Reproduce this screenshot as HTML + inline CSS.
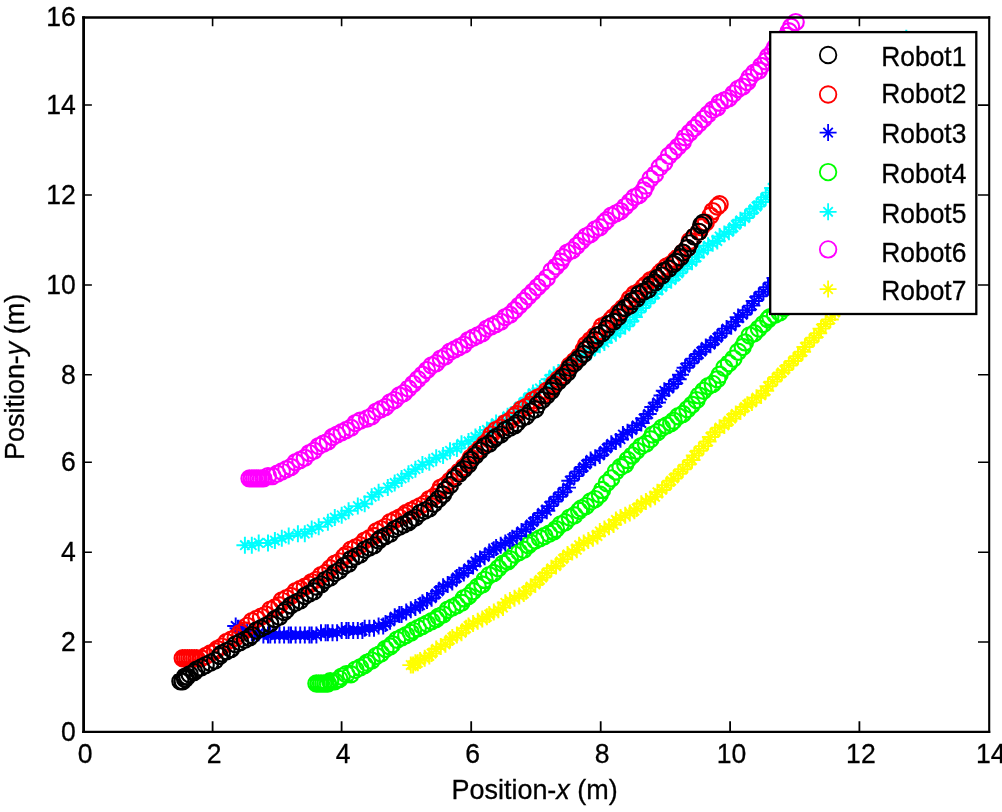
<!DOCTYPE html>
<html><head><meta charset="utf-8"><title>Robot trajectories</title>
<style>
html,body{margin:0;padding:0;background:#fff}
body{width:1002px;height:812px;position:relative;overflow:hidden;font-family:"Liberation Sans",sans-serif;color:#000}
</style></head><body>
<svg width="1002" height="812" viewBox="0 0 1002 812" style="position:absolute;left:0;top:0;will-change:transform;font-family:'Liberation Sans',sans-serif"><rect x="0" y="0" width="1002" height="812" fill="#fff"/><g><path d="M402.3,665.1h17M410.8,656.6v17M406.1,660.4l9.4,9.4M406.1,669.8l9.4,-9.4M404.6,665.1h17M413.1,656.6v17M408.4,660.4l9.4,9.4M408.4,669.8l9.4,-9.4M404.6,665.1h17M413.1,656.6v17M408.4,660.4l9.4,9.4M408.4,669.8l9.4,-9.4M406.9,662.8h17M415.4,654.3v17M410.7,658.1l9.4,9.4M410.7,667.5l9.4,-9.4M409.3,662.8h17M417.8,654.3v17M413.1,658.1l9.4,9.4M413.1,667.5l9.4,-9.4M411.6,660.5h17M420.1,652v17M415.4,655.8l9.4,9.4M415.4,665.2l9.4,-9.4M416.2,658.2h17M424.7,649.7v17M420,653.5l9.4,9.4M420,662.9l9.4,-9.4M420.8,655.9h17M429.3,647.4v17M424.6,651.2l9.4,9.4M424.6,660.6l9.4,-9.4M423.1,653.5h17M431.6,645v17M426.9,648.8l9.4,9.4M426.9,658.2l9.4,-9.4M427.7,648.9h17M436.2,640.4v17M431.5,644.2l9.4,9.4M431.5,653.6l9.4,-9.4M432.3,646.6h17M440.8,638.1v17M436.1,641.9l9.4,9.4M436.1,651.3l9.4,-9.4M436.9,644.3h17M445.4,635.8v17M440.7,639.6l9.4,9.4M440.7,649l9.4,-9.4M441.5,639.7h17M450,631.2v17M445.3,635l9.4,9.4M445.3,644.4l9.4,-9.4M443.8,637.4h17M452.3,628.9v17M447.6,632.7l9.4,9.4M447.6,642.1l9.4,-9.4M448.4,635.1h17M456.9,626.6v17M452.2,630.4l9.4,9.4M452.2,639.8l9.4,-9.4M453,632.8h17M461.5,624.3v17M456.8,628.1l9.4,9.4M456.8,637.5l9.4,-9.4M457.6,628.2h17M466.1,619.7v17M461.4,623.5l9.4,9.4M461.4,632.9l9.4,-9.4M460,625.9h17M468.5,617.4v17M463.8,621.2l9.4,9.4M463.8,630.6l9.4,-9.4M464.6,623.6h17M473.1,615.1v17M468.4,618.9l9.4,9.4M468.4,628.3l9.4,-9.4M469.2,621.3h17M477.7,612.8v17M473,616.6l9.4,9.4M473,626l9.4,-9.4M473.8,619h17M482.3,610.5v17M477.6,614.3l9.4,9.4M477.6,623.7l9.4,-9.4M478.4,616.7h17M486.9,608.2v17M482.2,612l9.4,9.4M482.2,621.4l9.4,-9.4M480.7,614.4h17M489.2,605.9v17M484.5,609.7l9.4,9.4M484.5,619.1l9.4,-9.4M485.3,612.1h17M493.8,603.6v17M489.1,607.4l9.4,9.4M489.1,616.8l9.4,-9.4M489.9,609.8h17M498.4,601.3v17M493.7,605.1l9.4,9.4M493.7,614.5l9.4,-9.4M494.5,607.5h17M503,599v17M498.3,602.8l9.4,9.4M498.3,612.2l9.4,-9.4M496.8,602.8h17M505.3,594.3v17M500.6,598.1l9.4,9.4M500.6,607.5l9.4,-9.4M501.4,600.5h17M509.9,592v17M505.2,595.8l9.4,9.4M505.2,605.2l9.4,-9.4M506,598.2h17M514.5,589.7v17M509.8,593.5l9.4,9.4M509.8,602.9l9.4,-9.4M510.7,595.9h17M519.2,587.4v17M514.5,591.2l9.4,9.4M514.5,600.6l9.4,-9.4M515.3,593.6h17M523.8,585.1v17M519.1,588.9l9.4,9.4M519.1,598.3l9.4,-9.4M517.6,591.3h17M526.1,582.8v17M521.4,586.6l9.4,9.4M521.4,596l9.4,-9.4M522.2,586.7h17M530.7,578.2v17M526,582l9.4,9.4M526,591.4l9.4,-9.4M526.8,584.4h17M535.3,575.9v17M530.6,579.7l9.4,9.4M530.6,589.1l9.4,-9.4M531.4,579.8h17M539.9,571.3v17M535.2,575.1l9.4,9.4M535.2,584.5l9.4,-9.4M533.7,577.5h17M542.2,569v17M537.5,572.8l9.4,9.4M537.5,582.2l9.4,-9.4M538.3,572.9h17M546.8,564.4v17M542.1,568.2l9.4,9.4M542.1,577.6l9.4,-9.4M542.9,568.3h17M551.4,559.8v17M546.7,563.6l9.4,9.4M546.7,573l9.4,-9.4M547.5,566h17M556,557.5v17M551.3,561.3l9.4,9.4M551.3,570.7l9.4,-9.4M552.1,561.4h17M560.6,552.9v17M555.9,556.7l9.4,9.4M555.9,566.1l9.4,-9.4M554.4,559.1h17M562.9,550.6v17M558.2,554.4l9.4,9.4M558.2,563.8l9.4,-9.4M559,554.5h17M567.5,546v17M562.8,549.8l9.4,9.4M562.8,559.2l9.4,-9.4M563.7,552.1h17M572.2,543.6v17M567.5,547.4l9.4,9.4M567.5,556.8l9.4,-9.4M568.3,549.8h17M576.8,541.3v17M572.1,545.1l9.4,9.4M572.1,554.5l9.4,-9.4M570.6,545.2h17M579.1,536.7v17M574.4,540.5l9.4,9.4M574.4,549.9l9.4,-9.4M575.2,542.9h17M583.7,534.4v17M579,538.2l9.4,9.4M579,547.6l9.4,-9.4M579.8,540.6h17M588.3,532.1v17M583.6,535.9l9.4,9.4M583.6,545.3l9.4,-9.4M584.4,538.3h17M592.9,529.8v17M588.2,533.6l9.4,9.4M588.2,543l9.4,-9.4M589,536h17M597.5,527.5v17M592.8,531.3l9.4,9.4M592.8,540.7l9.4,-9.4M591.3,531.4h17M599.8,522.9v17M595.1,526.7l9.4,9.4M595.1,536.1l9.4,-9.4M595.9,529.1h17M604.4,520.6v17M599.7,524.4l9.4,9.4M599.7,533.8l9.4,-9.4M600.5,526.8h17M609,518.3v17M604.3,522.1l9.4,9.4M604.3,531.5l9.4,-9.4M605.1,524.5h17M613.6,516v17M608.9,519.8l9.4,9.4M608.9,529.2l9.4,-9.4M607.4,519.9h17M615.9,511.4v17M611.2,515.2l9.4,9.4M611.2,524.6l9.4,-9.4M612,517.6h17M620.5,509.1v17M615.8,512.9l9.4,9.4M615.8,522.3l9.4,-9.4M616.7,515.3h17M625.2,506.8v17M620.5,510.6l9.4,9.4M620.5,520l9.4,-9.4M621.3,513h17M629.8,504.5v17M625.1,508.3l9.4,9.4M625.1,517.7l9.4,-9.4M625.9,510.7h17M634.4,502.2v17M629.7,506l9.4,9.4M629.7,515.4l9.4,-9.4M628.2,508.4h17M636.7,499.9v17M632,503.7l9.4,9.4M632,513.1l9.4,-9.4M632.8,503.8h17M641.3,495.3v17M636.6,499.1l9.4,9.4M636.6,508.5l9.4,-9.4M637.4,501.4h17M645.9,492.9v17M641.2,496.8l9.4,9.4M641.2,506.1l9.4,-9.4M642,499.1h17M650.5,490.6v17M645.8,494.4l9.4,9.4M645.8,503.8l9.4,-9.4M646.6,496.8h17M655.1,488.3v17M650.4,492.1l9.4,9.4M650.4,501.5l9.4,-9.4M648.9,492.2h17M657.4,483.7v17M652.7,487.5l9.4,9.4M652.7,496.9l9.4,-9.4M653.5,489.9h17M662,481.4v17M657.3,485.2l9.4,9.4M657.3,494.6l9.4,-9.4M658.1,485.3h17M666.6,476.8v17M661.9,480.6l9.4,9.4M661.9,490l9.4,-9.4M662.7,480.7h17M671.2,472.2v17M666.5,476l9.4,9.4M666.5,485.4l9.4,-9.4M665.1,478.4h17M673.6,469.9v17M668.9,473.7l9.4,9.4M668.9,483.1l9.4,-9.4M669.7,473.8h17M678.2,465.3v17M673.5,469.1l9.4,9.4M673.5,478.5l9.4,-9.4M674.3,469.2h17M682.8,460.7v17M678.1,464.5l9.4,9.4M678.1,473.9l9.4,-9.4M678.9,464.6h17M687.4,456.1v17M682.7,459.9l9.4,9.4M682.7,469.3l9.4,-9.4M683.5,460h17M692,451.5v17M687.3,455.3l9.4,9.4M687.3,464.7l9.4,-9.4M685.8,455.4h17M694.3,446.9v17M689.6,450.7l9.4,9.4M689.6,460.1l9.4,-9.4M690.4,450.8h17M698.9,442.3v17M694.2,446.1l9.4,9.4M694.2,455.5l9.4,-9.4M695,446.1h17M703.5,437.6v17M698.8,441.4l9.4,9.4M698.8,450.8l9.4,-9.4M699.6,441.5h17M708.1,433v17M703.4,436.8l9.4,9.4M703.4,446.2l9.4,-9.4M701.9,436.9h17M710.4,428.4v17M705.7,432.2l9.4,9.4M705.7,441.6l9.4,-9.4M706.5,432.3h17M715,423.8v17M710.3,427.6l9.4,9.4M710.3,437l9.4,-9.4M711.1,427.7h17M719.6,419.2v17M714.9,423l9.4,9.4M714.9,432.4l9.4,-9.4M715.8,425.4h17M724.3,416.9v17M719.6,420.7l9.4,9.4M719.6,430.1l9.4,-9.4M720.4,420.8h17M728.9,412.3v17M724.2,416.1l9.4,9.4M724.2,425.5l9.4,-9.4M722.7,418.5h17M731.2,410v17M726.5,413.8l9.4,9.4M726.5,423.2l9.4,-9.4M727.3,413.9h17M735.8,405.4v17M731.1,409.2l9.4,9.4M731.1,418.6l9.4,-9.4M731.9,411.6h17M740.4,403.1v17M735.7,406.9l9.4,9.4M735.7,416.3l9.4,-9.4M736.5,407h17M745,398.5v17M740.3,402.3l9.4,9.4M740.3,411.7l9.4,-9.4M738.8,404.7h17M747.3,396.2v17M742.6,400l9.4,9.4M742.6,409.4l9.4,-9.4M743.4,402.4h17M751.9,393.9v17M747.2,397.7l9.4,9.4M747.2,407.1l9.4,-9.4M748,397.7h17M756.5,389.2v17M751.8,393l9.4,9.4M751.8,402.4l9.4,-9.4M752.6,395.4h17M761.1,386.9v17M756.4,390.7l9.4,9.4M756.4,400.1l9.4,-9.4M757.2,390.8h17M765.7,382.3v17M761,386.1l9.4,9.4M761,395.5l9.4,-9.4M759.5,386.2h17M768,377.7v17M763.3,381.5l9.4,9.4M763.3,390.9l9.4,-9.4M764.1,381.6h17M772.6,373.1v17M767.9,376.9l9.4,9.4M767.9,386.3l9.4,-9.4M768.8,377h17M777.3,368.5v17M772.6,372.3l9.4,9.4M772.6,381.7l9.4,-9.4M773.4,372.4h17M781.9,363.9v17M777.2,367.7l9.4,9.4M777.2,377.1l9.4,-9.4M775.7,370.1h17M784.2,361.6v17M779.5,365.4l9.4,9.4M779.5,374.8l9.4,-9.4M780.3,365.5h17M788.8,357v17M784.1,360.8l9.4,9.4M784.1,370.2l9.4,-9.4M784.9,360.9h17M793.4,352.4v17M788.7,356.2l9.4,9.4M788.7,365.6l9.4,-9.4M789.5,356.3h17M798,347.8v17M793.3,351.6l9.4,9.4M793.3,361l9.4,-9.4M794.1,351.7h17M802.6,343.2v17M797.9,347l9.4,9.4M797.9,356.4l9.4,-9.4M796.4,347h17M804.9,338.5v17M800.2,342.3l9.4,9.4M800.2,351.7l9.4,-9.4M801,342.4h17M809.5,333.9v17M804.8,337.7l9.4,9.4M804.8,347.1l9.4,-9.4M805.6,337.8h17M814.1,329.3v17M809.4,333.1l9.4,9.4M809.4,342.5l9.4,-9.4M810.2,333.2h17M818.7,324.7v17M814,328.5l9.4,9.4M814,337.9l9.4,-9.4M812.5,328.6h17M821,320.1v17M816.3,323.9l9.4,9.4M816.3,333.3l9.4,-9.4M817.1,324h17M825.6,315.5v17M820.9,319.3l9.4,9.4M820.9,328.7l9.4,-9.4M821.8,319.4h17M830.3,310.9v17M825.6,314.7l9.4,9.4M825.6,324.1l9.4,-9.4M826.4,312.5h17M834.9,304v17M830.2,307.8l9.4,9.4M830.2,317.2l9.4,-9.4M831,307.9h17M839.5,299.4v17M834.8,303.2l9.4,9.4M834.8,312.6l9.4,-9.4M833.3,303.3h17M841.8,294.8v17M837.1,298.6l9.4,9.4M837.1,308l9.4,-9.4M837.9,298.7h17M846.4,290.2v17M841.7,294l9.4,9.4M841.7,303.4l9.4,-9.4M842.5,294h17M851,285.5v17M846.3,289.3l9.4,9.4M846.3,298.7l9.4,-9.4M847.1,289.4h17M855.6,280.9v17M850.9,284.7l9.4,9.4M850.9,294.1l9.4,-9.4M849.4,287.1h17M857.9,278.6v17M853.2,282.4l9.4,9.4M853.2,291.8l9.4,-9.4M851.7,284.8h17M860.2,276.3v17M855.5,280.1l9.4,9.4M855.5,289.5l9.4,-9.4" fill="none" stroke="#ff0" stroke-width="1.95"/><path d="M241.4,478.4a8.1,8.1 0 1,0 16.2,0a8.1,8.1 0 1,0 -16.2,0M243.7,478.4a8.1,8.1 0 1,0 16.2,0a8.1,8.1 0 1,0 -16.2,0M246,478.4a8.1,8.1 0 1,0 16.2,0a8.1,8.1 0 1,0 -16.2,0M248.3,478.4a8.1,8.1 0 1,0 16.2,0a8.1,8.1 0 1,0 -16.2,0M250.6,478.4a8.1,8.1 0 1,0 16.2,0a8.1,8.1 0 1,0 -16.2,0M252.9,478.4a8.1,8.1 0 1,0 16.2,0a8.1,8.1 0 1,0 -16.2,0M255.3,478.4a8.1,8.1 0 1,0 16.2,0a8.1,8.1 0 1,0 -16.2,0M259.9,476.1a8.1,8.1 0 1,0 16.2,0a8.1,8.1 0 1,0 -16.2,0M264.5,476.1a8.1,8.1 0 1,0 16.2,0a8.1,8.1 0 1,0 -16.2,0M269.1,473.8a8.1,8.1 0 1,0 16.2,0a8.1,8.1 0 1,0 -16.2,0M273.7,471.5a8.1,8.1 0 1,0 16.2,0a8.1,8.1 0 1,0 -16.2,0M278.3,469.2a8.1,8.1 0 1,0 16.2,0a8.1,8.1 0 1,0 -16.2,0M282.9,466.9a8.1,8.1 0 1,0 16.2,0a8.1,8.1 0 1,0 -16.2,0M287.5,462.3a8.1,8.1 0 1,0 16.2,0a8.1,8.1 0 1,0 -16.2,0M292.1,460a8.1,8.1 0 1,0 16.2,0a8.1,8.1 0 1,0 -16.2,0M296.7,457.7a8.1,8.1 0 1,0 16.2,0a8.1,8.1 0 1,0 -16.2,0M301.3,453.1a8.1,8.1 0 1,0 16.2,0a8.1,8.1 0 1,0 -16.2,0M305.9,450.8a8.1,8.1 0 1,0 16.2,0a8.1,8.1 0 1,0 -16.2,0M310.6,446.1a8.1,8.1 0 1,0 16.2,0a8.1,8.1 0 1,0 -16.2,0M315.2,443.8a8.1,8.1 0 1,0 16.2,0a8.1,8.1 0 1,0 -16.2,0M319.8,441.5a8.1,8.1 0 1,0 16.2,0a8.1,8.1 0 1,0 -16.2,0M324.4,436.9a8.1,8.1 0 1,0 16.2,0a8.1,8.1 0 1,0 -16.2,0M329,434.6a8.1,8.1 0 1,0 16.2,0a8.1,8.1 0 1,0 -16.2,0M333.6,432.3a8.1,8.1 0 1,0 16.2,0a8.1,8.1 0 1,0 -16.2,0M338.2,430a8.1,8.1 0 1,0 16.2,0a8.1,8.1 0 1,0 -16.2,0M342.8,427.7a8.1,8.1 0 1,0 16.2,0a8.1,8.1 0 1,0 -16.2,0M347.4,423.1a8.1,8.1 0 1,0 16.2,0a8.1,8.1 0 1,0 -16.2,0M352,420.8a8.1,8.1 0 1,0 16.2,0a8.1,8.1 0 1,0 -16.2,0M359,418.5a8.1,8.1 0 1,0 16.2,0a8.1,8.1 0 1,0 -16.2,0M363.6,416.2a8.1,8.1 0 1,0 16.2,0a8.1,8.1 0 1,0 -16.2,0M368.2,411.6a8.1,8.1 0 1,0 16.2,0a8.1,8.1 0 1,0 -16.2,0M372.8,409.3a8.1,8.1 0 1,0 16.2,0a8.1,8.1 0 1,0 -16.2,0M377.4,407a8.1,8.1 0 1,0 16.2,0a8.1,8.1 0 1,0 -16.2,0M382,402.4a8.1,8.1 0 1,0 16.2,0a8.1,8.1 0 1,0 -16.2,0M386.6,400.1a8.1,8.1 0 1,0 16.2,0a8.1,8.1 0 1,0 -16.2,0M391.2,395.4a8.1,8.1 0 1,0 16.2,0a8.1,8.1 0 1,0 -16.2,0M395.8,393.1a8.1,8.1 0 1,0 16.2,0a8.1,8.1 0 1,0 -16.2,0M400.4,388.5a8.1,8.1 0 1,0 16.2,0a8.1,8.1 0 1,0 -16.2,0M405,383.9a8.1,8.1 0 1,0 16.2,0a8.1,8.1 0 1,0 -16.2,0M409.7,379.3a8.1,8.1 0 1,0 16.2,0a8.1,8.1 0 1,0 -16.2,0M414.3,374.7a8.1,8.1 0 1,0 16.2,0a8.1,8.1 0 1,0 -16.2,0M418.9,370.1a8.1,8.1 0 1,0 16.2,0a8.1,8.1 0 1,0 -16.2,0M423.5,365.5a8.1,8.1 0 1,0 16.2,0a8.1,8.1 0 1,0 -16.2,0M428.1,363.2a8.1,8.1 0 1,0 16.2,0a8.1,8.1 0 1,0 -16.2,0M432.7,358.6a8.1,8.1 0 1,0 16.2,0a8.1,8.1 0 1,0 -16.2,0M437.3,356.3a8.1,8.1 0 1,0 16.2,0a8.1,8.1 0 1,0 -16.2,0M441.9,351.7a8.1,8.1 0 1,0 16.2,0a8.1,8.1 0 1,0 -16.2,0M446.5,349.4a8.1,8.1 0 1,0 16.2,0a8.1,8.1 0 1,0 -16.2,0M451.1,347a8.1,8.1 0 1,0 16.2,0a8.1,8.1 0 1,0 -16.2,0M455.7,344.7a8.1,8.1 0 1,0 16.2,0a8.1,8.1 0 1,0 -16.2,0M460.4,340.1a8.1,8.1 0 1,0 16.2,0a8.1,8.1 0 1,0 -16.2,0M465,337.8a8.1,8.1 0 1,0 16.2,0a8.1,8.1 0 1,0 -16.2,0M469.6,335.5a8.1,8.1 0 1,0 16.2,0a8.1,8.1 0 1,0 -16.2,0M474.2,333.2a8.1,8.1 0 1,0 16.2,0a8.1,8.1 0 1,0 -16.2,0M478.8,328.6a8.1,8.1 0 1,0 16.2,0a8.1,8.1 0 1,0 -16.2,0M483.4,326.3a8.1,8.1 0 1,0 16.2,0a8.1,8.1 0 1,0 -16.2,0M488,324a8.1,8.1 0 1,0 16.2,0a8.1,8.1 0 1,0 -16.2,0M492.6,321.7a8.1,8.1 0 1,0 16.2,0a8.1,8.1 0 1,0 -16.2,0M497.2,317.1a8.1,8.1 0 1,0 16.2,0a8.1,8.1 0 1,0 -16.2,0M501.8,314.8a8.1,8.1 0 1,0 16.2,0a8.1,8.1 0 1,0 -16.2,0M506.4,310.2a8.1,8.1 0 1,0 16.2,0a8.1,8.1 0 1,0 -16.2,0M511.1,305.6a8.1,8.1 0 1,0 16.2,0a8.1,8.1 0 1,0 -16.2,0M515.7,301a8.1,8.1 0 1,0 16.2,0a8.1,8.1 0 1,0 -16.2,0M520.3,296.3a8.1,8.1 0 1,0 16.2,0a8.1,8.1 0 1,0 -16.2,0M524.9,291.7a8.1,8.1 0 1,0 16.2,0a8.1,8.1 0 1,0 -16.2,0M529.5,287.1a8.1,8.1 0 1,0 16.2,0a8.1,8.1 0 1,0 -16.2,0M534.1,282.5a8.1,8.1 0 1,0 16.2,0a8.1,8.1 0 1,0 -16.2,0M538.7,277.9a8.1,8.1 0 1,0 16.2,0a8.1,8.1 0 1,0 -16.2,0M543.3,271a8.1,8.1 0 1,0 16.2,0a8.1,8.1 0 1,0 -16.2,0M547.9,266.4a8.1,8.1 0 1,0 16.2,0a8.1,8.1 0 1,0 -16.2,0M552.5,261.8a8.1,8.1 0 1,0 16.2,0a8.1,8.1 0 1,0 -16.2,0M554.8,257.2a8.1,8.1 0 1,0 16.2,0a8.1,8.1 0 1,0 -16.2,0M559.4,252.6a8.1,8.1 0 1,0 16.2,0a8.1,8.1 0 1,0 -16.2,0M564.1,250.3a8.1,8.1 0 1,0 16.2,0a8.1,8.1 0 1,0 -16.2,0M568.7,245.7a8.1,8.1 0 1,0 16.2,0a8.1,8.1 0 1,0 -16.2,0M573.3,241a8.1,8.1 0 1,0 16.2,0a8.1,8.1 0 1,0 -16.2,0M577.9,236.4a8.1,8.1 0 1,0 16.2,0a8.1,8.1 0 1,0 -16.2,0M582.5,234.1a8.1,8.1 0 1,0 16.2,0a8.1,8.1 0 1,0 -16.2,0M587.1,229.5a8.1,8.1 0 1,0 16.2,0a8.1,8.1 0 1,0 -16.2,0M591.7,227.2a8.1,8.1 0 1,0 16.2,0a8.1,8.1 0 1,0 -16.2,0M596.3,222.6a8.1,8.1 0 1,0 16.2,0a8.1,8.1 0 1,0 -16.2,0M598.6,220.3a8.1,8.1 0 1,0 16.2,0a8.1,8.1 0 1,0 -16.2,0M603.2,215.7a8.1,8.1 0 1,0 16.2,0a8.1,8.1 0 1,0 -16.2,0M607.8,213.4a8.1,8.1 0 1,0 16.2,0a8.1,8.1 0 1,0 -16.2,0M612.4,211.1a8.1,8.1 0 1,0 16.2,0a8.1,8.1 0 1,0 -16.2,0M617.1,206.5a8.1,8.1 0 1,0 16.2,0a8.1,8.1 0 1,0 -16.2,0M621.7,201.9a8.1,8.1 0 1,0 16.2,0a8.1,8.1 0 1,0 -16.2,0M626.3,197.3a8.1,8.1 0 1,0 16.2,0a8.1,8.1 0 1,0 -16.2,0M630.9,195a8.1,8.1 0 1,0 16.2,0a8.1,8.1 0 1,0 -16.2,0M635.5,190.3a8.1,8.1 0 1,0 16.2,0a8.1,8.1 0 1,0 -16.2,0M637.8,185.7a8.1,8.1 0 1,0 16.2,0a8.1,8.1 0 1,0 -16.2,0M642.4,178.8a8.1,8.1 0 1,0 16.2,0a8.1,8.1 0 1,0 -16.2,0M647,174.2a8.1,8.1 0 1,0 16.2,0a8.1,8.1 0 1,0 -16.2,0M651.6,167.3a8.1,8.1 0 1,0 16.2,0a8.1,8.1 0 1,0 -16.2,0M656.2,162.7a8.1,8.1 0 1,0 16.2,0a8.1,8.1 0 1,0 -16.2,0M660.8,155.8a8.1,8.1 0 1,0 16.2,0a8.1,8.1 0 1,0 -16.2,0M665.5,151.2a8.1,8.1 0 1,0 16.2,0a8.1,8.1 0 1,0 -16.2,0M670.1,146.6a8.1,8.1 0 1,0 16.2,0a8.1,8.1 0 1,0 -16.2,0M674.7,141.9a8.1,8.1 0 1,0 16.2,0a8.1,8.1 0 1,0 -16.2,0M677,137.3a8.1,8.1 0 1,0 16.2,0a8.1,8.1 0 1,0 -16.2,0M681.6,132.7a8.1,8.1 0 1,0 16.2,0a8.1,8.1 0 1,0 -16.2,0M686.2,128.1a8.1,8.1 0 1,0 16.2,0a8.1,8.1 0 1,0 -16.2,0M690.8,123.5a8.1,8.1 0 1,0 16.2,0a8.1,8.1 0 1,0 -16.2,0M695.4,118.9a8.1,8.1 0 1,0 16.2,0a8.1,8.1 0 1,0 -16.2,0M700,114.3a8.1,8.1 0 1,0 16.2,0a8.1,8.1 0 1,0 -16.2,0M704.6,109.7a8.1,8.1 0 1,0 16.2,0a8.1,8.1 0 1,0 -16.2,0M709.2,107.4a8.1,8.1 0 1,0 16.2,0a8.1,8.1 0 1,0 -16.2,0M711.5,102.8a8.1,8.1 0 1,0 16.2,0a8.1,8.1 0 1,0 -16.2,0M716.2,100.5a8.1,8.1 0 1,0 16.2,0a8.1,8.1 0 1,0 -16.2,0M720.8,98.2a8.1,8.1 0 1,0 16.2,0a8.1,8.1 0 1,0 -16.2,0M725.4,93.6a8.1,8.1 0 1,0 16.2,0a8.1,8.1 0 1,0 -16.2,0M730,88.9a8.1,8.1 0 1,0 16.2,0a8.1,8.1 0 1,0 -16.2,0M734.6,86.6a8.1,8.1 0 1,0 16.2,0a8.1,8.1 0 1,0 -16.2,0M739.2,82a8.1,8.1 0 1,0 16.2,0a8.1,8.1 0 1,0 -16.2,0M741.5,77.4a8.1,8.1 0 1,0 16.2,0a8.1,8.1 0 1,0 -16.2,0M746.1,72.8a8.1,8.1 0 1,0 16.2,0a8.1,8.1 0 1,0 -16.2,0M750.7,70.5a8.1,8.1 0 1,0 16.2,0a8.1,8.1 0 1,0 -16.2,0M753,65.9a8.1,8.1 0 1,0 16.2,0a8.1,8.1 0 1,0 -16.2,0M757.6,61.3a8.1,8.1 0 1,0 16.2,0a8.1,8.1 0 1,0 -16.2,0M759.9,56.7a8.1,8.1 0 1,0 16.2,0a8.1,8.1 0 1,0 -16.2,0M764.5,52.1a8.1,8.1 0 1,0 16.2,0a8.1,8.1 0 1,0 -16.2,0M766.9,47.5a8.1,8.1 0 1,0 16.2,0a8.1,8.1 0 1,0 -16.2,0M771.5,42.9a8.1,8.1 0 1,0 16.2,0a8.1,8.1 0 1,0 -16.2,0M773.8,40.5a8.1,8.1 0 1,0 16.2,0a8.1,8.1 0 1,0 -16.2,0M778.4,35.9a8.1,8.1 0 1,0 16.2,0a8.1,8.1 0 1,0 -16.2,0M780.7,31.3a8.1,8.1 0 1,0 16.2,0a8.1,8.1 0 1,0 -16.2,0M783,26.7a8.1,8.1 0 1,0 16.2,0a8.1,8.1 0 1,0 -16.2,0M787.6,22.1a8.1,8.1 0 1,0 16.2,0a8.1,8.1 0 1,0 -16.2,0" fill="none" stroke="#f0f" stroke-width="2.15"/><path d="M236.4,545.2h17M244.9,536.7v17M240.2,540.5l9.4,9.4M240.2,549.9l9.4,-9.4M243.3,545.2h17M251.8,536.7v17M247.1,540.5l9.4,9.4M247.1,549.9l9.4,-9.4M250.2,542.9h17M258.7,534.4v17M254,538.2l9.4,9.4M254,547.6l9.4,-9.4M259.5,542.9h17M268,534.4v17M263.3,538.2l9.4,9.4M263.3,547.6l9.4,-9.4M266.4,540.6h17M274.9,532.1v17M270.2,535.9l9.4,9.4M270.2,545.3l9.4,-9.4M273.3,538.3h17M281.8,529.8v17M277.1,533.6l9.4,9.4M277.1,543l9.4,-9.4M280.2,536h17M288.7,527.5v17M284,531.3l9.4,9.4M284,540.7l9.4,-9.4M289.4,533.7h17M297.9,525.2v17M293.2,529l9.4,9.4M293.2,538.4l9.4,-9.4M296.3,533.7h17M304.8,525.2v17M300.1,529l9.4,9.4M300.1,538.4l9.4,-9.4M303.2,529.1h17M311.7,520.6v17M307,524.4l9.4,9.4M307,533.8l9.4,-9.4M310.2,526.8h17M318.7,518.3v17M314,522.1l9.4,9.4M314,531.5l9.4,-9.4M319.4,522.2h17M327.9,513.7v17M323.2,517.5l9.4,9.4M323.2,526.9l9.4,-9.4M326.3,517.6h17M334.8,509.1v17M330.1,512.9l9.4,9.4M330.1,522.3l9.4,-9.4M333.2,515.3h17M341.7,506.8v17M337,510.6l9.4,9.4M337,520l9.4,-9.4M340.1,510.7h17M348.6,502.2v17M343.9,506l9.4,9.4M343.9,515.4l9.4,-9.4M349.3,506.1h17M357.8,497.6v17M353.1,501.4l9.4,9.4M353.1,510.8l9.4,-9.4M356.2,503.8h17M364.7,495.3v17M360,499.1l9.4,9.4M360,508.5l9.4,-9.4M363.2,496.8h17M371.7,488.3v17M367,492.1l9.4,9.4M367,501.5l9.4,-9.4M370.1,492.2h17M378.6,483.7v17M373.9,487.5l9.4,9.4M373.9,496.9l9.4,-9.4M379.3,487.6h17M387.8,479.1v17M383.1,482.9l9.4,9.4M383.1,492.3l9.4,-9.4M386.2,483h17M394.7,474.5v17M390,478.3l9.4,9.4M390,487.7l9.4,-9.4M393.1,478.4h17M401.6,469.9v17M396.9,473.7l9.4,9.4M396.9,483.1l9.4,-9.4M400,473.8h17M408.5,465.3v17M403.8,469.1l9.4,9.4M403.8,478.5l9.4,-9.4M406.9,469.2h17M415.4,460.7v17M410.7,464.5l9.4,9.4M410.7,473.9l9.4,-9.4M413.9,464.6h17M422.4,456.1v17M417.7,459.9l9.4,9.4M417.7,469.3l9.4,-9.4M420.8,462.3h17M429.3,453.8v17M424.6,457.6l9.4,9.4M424.6,467l9.4,-9.4M427.7,457.7h17M436.2,449.2v17M431.5,453l9.4,9.4M431.5,462.4l9.4,-9.4M434.6,455.4h17M443.1,446.9v17M438.4,450.7l9.4,9.4M438.4,460.1l9.4,-9.4M441.5,450.8h17M450,442.3v17M445.3,446.1l9.4,9.4M445.3,455.5l9.4,-9.4M448.4,448.4h17M456.9,439.9v17M452.2,443.7l9.4,9.4M452.2,453.1l9.4,-9.4M453,443.8h17M461.5,435.3v17M456.8,439.1l9.4,9.4M456.8,448.5l9.4,-9.4M460,441.5h17M468.5,433v17M463.8,436.8l9.4,9.4M463.8,446.2l9.4,-9.4M466.9,436.9h17M475.4,428.4v17M470.7,432.2l9.4,9.4M470.7,441.6l9.4,-9.4M471.5,434.6h17M480,426.1v17M475.3,429.9l9.4,9.4M475.3,439.3l9.4,-9.4M478.4,430h17M486.9,421.5v17M482.2,425.3l9.4,9.4M482.2,434.7l9.4,-9.4M483,427.7h17M491.5,419.2v17M486.8,423l9.4,9.4M486.8,432.4l9.4,-9.4M487.6,423.1h17M496.1,414.6v17M491.4,418.4l9.4,9.4M491.4,427.8l9.4,-9.4M494.5,420.8h17M503,412.3v17M498.3,416.1l9.4,9.4M498.3,425.5l9.4,-9.4M499.1,416.2h17M507.6,407.7v17M502.9,411.5l9.4,9.4M502.9,420.9l9.4,-9.4M506,411.6h17M514.5,403.1v17M509.8,406.9l9.4,9.4M509.8,416.3l9.4,-9.4M510.7,407h17M519.2,398.5v17M514.5,402.3l9.4,9.4M514.5,411.7l9.4,-9.4M515.3,402.4h17M523.8,393.9v17M519.1,397.7l9.4,9.4M519.1,407.1l9.4,-9.4M519.9,397.7h17M528.4,389.2v17M523.7,393l9.4,9.4M523.7,402.4l9.4,-9.4M524.5,393.1h17M533,384.6v17M528.3,388.4l9.4,9.4M528.3,397.8l9.4,-9.4M531.4,388.5h17M539.9,380v17M535.2,383.8l9.4,9.4M535.2,393.2l9.4,-9.4M536,386.2h17M544.5,377.7v17M539.8,381.5l9.4,9.4M539.8,390.9l9.4,-9.4M540.6,379.3h17M549.1,370.8v17M544.4,374.6l9.4,9.4M544.4,384l9.4,-9.4M545.2,374.7h17M553.7,366.2v17M549,370l9.4,9.4M549,379.4l9.4,-9.4M549.8,372.4h17M558.3,363.9v17M553.6,367.7l9.4,9.4M553.6,377.1l9.4,-9.4M554.4,370.1h17M562.9,361.6v17M558.2,365.4l9.4,9.4M558.2,374.8l9.4,-9.4M559,365.5h17M567.5,357v17M562.8,360.8l9.4,9.4M562.8,370.2l9.4,-9.4M563.7,363.2h17M572.2,354.7v17M567.5,358.5l9.4,9.4M567.5,367.9l9.4,-9.4M568.3,360.9h17M576.8,352.4v17M572.1,356.2l9.4,9.4M572.1,365.6l9.4,-9.4M572.9,358.6h17M581.4,350.1v17M576.7,353.9l9.4,9.4M576.7,363.3l9.4,-9.4M577.5,354h17M586,345.5v17M581.3,349.3l9.4,9.4M581.3,358.7l9.4,-9.4M582.1,351.7h17M590.6,343.2v17M585.9,347l9.4,9.4M585.9,356.4l9.4,-9.4M586.7,347h17M595.2,338.5v17M590.5,342.3l9.4,9.4M590.5,351.7l9.4,-9.4M591.3,344.7h17M599.8,336.2v17M595.1,340l9.4,9.4M595.1,349.4l9.4,-9.4M595.9,342.4h17M604.4,333.9v17M599.7,337.7l9.4,9.4M599.7,347.1l9.4,-9.4M598.2,337.8h17M606.7,329.3v17M602,333.1l9.4,9.4M602,342.5l9.4,-9.4M602.8,335.5h17M611.3,327v17M606.6,330.8l9.4,9.4M606.6,340.2l9.4,-9.4M607.4,333.2h17M615.9,324.7v17M611.2,328.5l9.4,9.4M611.2,337.9l9.4,-9.4M612,328.6h17M620.5,320.1v17M615.8,323.9l9.4,9.4M615.8,333.3l9.4,-9.4M616.7,326.3h17M625.2,317.8v17M620.5,321.6l9.4,9.4M620.5,331l9.4,-9.4M621.3,321.7h17M629.8,313.2v17M625.1,317l9.4,9.4M625.1,326.4l9.4,-9.4M625.9,317.1h17M634.4,308.6v17M629.7,312.4l9.4,9.4M629.7,321.8l9.4,-9.4M628.2,312.5h17M636.7,304v17M632,307.8l9.4,9.4M632,317.2l9.4,-9.4M632.8,307.9h17M641.3,299.4v17M636.6,303.2l9.4,9.4M636.6,312.6l9.4,-9.4M637.4,303.3h17M645.9,294.8v17M641.2,298.6l9.4,9.4M641.2,308l9.4,-9.4M642,298.7h17M650.5,290.2v17M645.8,294l9.4,9.4M645.8,303.4l9.4,-9.4M646.6,294h17M655.1,285.5v17M650.4,289.3l9.4,9.4M650.4,298.7l9.4,-9.4M648.9,289.4h17M657.4,280.9v17M652.7,284.7l9.4,9.4M652.7,294.1l9.4,-9.4M653.5,287.1h17M662,278.6v17M657.3,282.4l9.4,9.4M657.3,291.8l9.4,-9.4M658.1,282.5h17M666.6,274v17M661.9,277.8l9.4,9.4M661.9,287.2l9.4,-9.4M662.7,280.2h17M671.2,271.7v17M666.5,275.5l9.4,9.4M666.5,284.9l9.4,-9.4M667.4,275.6h17M675.9,267.1v17M671.2,270.9l9.4,9.4M671.2,280.3l9.4,-9.4M669.7,273.3h17M678.2,264.8v17M673.5,268.6l9.4,9.4M673.5,278l9.4,-9.4M674.3,268.7h17M682.8,260.2v17M678.1,264l9.4,9.4M678.1,273.4l9.4,-9.4M678.9,264.1h17M687.4,255.6v17M682.7,259.4l9.4,9.4M682.7,268.8l9.4,-9.4M683.5,261.8h17M692,253.3v17M687.3,257.1l9.4,9.4M687.3,266.5l9.4,-9.4M688.1,257.2h17M696.6,248.7v17M691.9,252.5l9.4,9.4M691.9,261.9l9.4,-9.4M690.4,252.6h17M698.9,244.1v17M694.2,247.9l9.4,9.4M694.2,257.3l9.4,-9.4M695,250.3h17M703.5,241.8v17M698.8,245.6l9.4,9.4M698.8,255l9.4,-9.4M699.6,245.7h17M708.1,237.2v17M703.4,241l9.4,9.4M703.4,250.4l9.4,-9.4M704.2,243.3h17M712.7,234.8v17M708,238.6l9.4,9.4M708,248l9.4,-9.4M708.8,241h17M717.3,232.5v17M712.6,236.3l9.4,9.4M712.6,245.7l9.4,-9.4M711.1,236.4h17M719.6,227.9v17M714.9,231.7l9.4,9.4M714.9,241.1l9.4,-9.4M715.8,234.1h17M724.3,225.6v17M719.6,229.4l9.4,9.4M719.6,238.8l9.4,-9.4M720.4,231.8h17M728.9,223.3v17M724.2,227.1l9.4,9.4M724.2,236.5l9.4,-9.4M725,227.2h17M733.5,218.7v17M728.8,222.5l9.4,9.4M728.8,231.9l9.4,-9.4M727.3,224.9h17M735.8,216.4v17M731.1,220.2l9.4,9.4M731.1,229.6l9.4,-9.4M731.9,220.3h17M740.4,211.8v17M735.7,215.6l9.4,9.4M735.7,225l9.4,-9.4M736.5,218h17M745,209.5v17M740.3,213.3l9.4,9.4M740.3,222.7l9.4,-9.4M741.1,213.4h17M749.6,204.9v17M744.9,208.7l9.4,9.4M744.9,218.1l9.4,-9.4M745.7,208.8h17M754.2,200.3v17M749.5,204.1l9.4,9.4M749.5,213.5l9.4,-9.4M748,206.5h17M756.5,198v17M751.8,201.8l9.4,9.4M751.8,211.2l9.4,-9.4M752.6,201.9h17M761.1,193.4v17M756.4,197.2l9.4,9.4M756.4,206.6l9.4,-9.4M757.2,197.3h17M765.7,188.8v17M761,192.6l9.4,9.4M761,202l9.4,-9.4M761.8,192.6h17M770.3,184.1v17M765.6,187.9l9.4,9.4M765.6,197.3l9.4,-9.4M764.1,188h17M772.6,179.5v17M767.9,183.3l9.4,9.4M767.9,192.7l9.4,-9.4M768.8,183.4h17M777.3,174.9v17M772.6,178.7l9.4,9.4M772.6,188.1l9.4,-9.4M773.4,176.5h17M781.9,168v17M777.2,171.8l9.4,9.4M777.2,181.2l9.4,-9.4M778,171.9h17M786.5,163.4v17M781.8,167.2l9.4,9.4M781.8,176.6l9.4,-9.4M782.6,167.3h17M791.1,158.8v17M786.4,162.6l9.4,9.4M786.4,172l9.4,-9.4M784.9,162.7h17M793.4,154.2v17M788.7,158l9.4,9.4M788.7,167.4l9.4,-9.4M789.5,155.8h17M798,147.3v17M793.3,151.1l9.4,9.4M793.3,160.5l9.4,-9.4M794.1,151.2h17M802.6,142.7v17M797.9,146.5l9.4,9.4M797.9,155.9l9.4,-9.4M798.7,146.6h17M807.2,138.1v17M802.5,141.9l9.4,9.4M802.5,151.3l9.4,-9.4M801,141.9h17M809.5,133.4v17M804.8,137.2l9.4,9.4M804.8,146.6l9.4,-9.4M805.6,137.3h17M814.1,128.8v17M809.4,132.6l9.4,9.4M809.4,142l9.4,-9.4M810.2,132.7h17M818.7,124.2v17M814,128l9.4,9.4M814,137.4l9.4,-9.4M814.8,128.1h17M823.3,119.6v17M818.6,123.4l9.4,9.4M818.6,132.8l9.4,-9.4M819.5,123.5h17M828,115v17M823.3,118.8l9.4,9.4M823.3,128.2l9.4,-9.4M821.8,118.9h17M830.3,110.4v17M825.6,114.2l9.4,9.4M825.6,123.6l9.4,-9.4M826.4,114.3h17M834.9,105.8v17M830.2,109.6l9.4,9.4M830.2,119l9.4,-9.4M831,109.7h17M839.5,101.2v17M834.8,105l9.4,9.4M834.8,114.4l9.4,-9.4M835.6,105.1h17M844.1,96.6v17M839.4,100.4l9.4,9.4M839.4,109.8l9.4,-9.4M837.9,100.5h17M846.4,92v17M841.7,95.8l9.4,9.4M841.7,105.2l9.4,-9.4M842.5,98.2h17M851,89.7v17M846.3,93.5l9.4,9.4M846.3,102.9l9.4,-9.4M847.1,93.6h17M855.6,85.1v17M850.9,88.9l9.4,9.4M850.9,98.3l9.4,-9.4M851.7,88.9h17M860.2,80.4v17M855.5,84.2l9.4,9.4M855.5,93.6l9.4,-9.4M856.3,86.6h17M864.8,78.1v17M860.1,81.9l9.4,9.4M860.1,91.3l9.4,-9.4M858.6,82h17M867.1,73.5v17M862.4,77.3l9.4,9.4M862.4,86.7l9.4,-9.4M863.2,77.4h17M871.7,68.9v17M867,72.7l9.4,9.4M867,82.1l9.4,-9.4M867.8,75.1h17M876.3,66.6v17M871.6,70.4l9.4,9.4M871.6,79.8l9.4,-9.4M872.5,70.5h17M881,62v17M876.3,65.8l9.4,9.4M876.3,75.2l9.4,-9.4M874.8,65.9h17M883.3,57.4v17M878.6,61.2l9.4,9.4M878.6,70.6l9.4,-9.4M879.4,61.3h17M887.9,52.8v17M883.2,56.6l9.4,9.4M883.2,66l9.4,-9.4M884,56.7h17M892.5,48.2v17M887.8,52l9.4,9.4M887.8,61.4l9.4,-9.4M888.6,52.1h17M897.1,43.6v17M892.4,47.4l9.4,9.4M892.4,56.8l9.4,-9.4M893.2,47.5h17M901.7,39v17M897,42.8l9.4,9.4M897,52.2l9.4,-9.4M895.5,42.9h17M904,34.4v17M899.3,38.2l9.4,9.4M899.3,47.6l9.4,-9.4M897.8,38.2h17M906.3,29.7v17M901.6,33.5l9.4,9.4M901.6,42.9l9.4,-9.4" fill="none" stroke="#0ff" stroke-width="1.95"/><path d="M308.3,683.5a8.1,8.1 0 1,0 16.2,0a8.1,8.1 0 1,0 -16.2,0M310.6,683.5a8.1,8.1 0 1,0 16.2,0a8.1,8.1 0 1,0 -16.2,0M312.9,683.5a8.1,8.1 0 1,0 16.2,0a8.1,8.1 0 1,0 -16.2,0M315.2,683.5a8.1,8.1 0 1,0 16.2,0a8.1,8.1 0 1,0 -16.2,0M317.5,683.5a8.1,8.1 0 1,0 16.2,0a8.1,8.1 0 1,0 -16.2,0M319.8,683.5a8.1,8.1 0 1,0 16.2,0a8.1,8.1 0 1,0 -16.2,0M322.1,681.2a8.1,8.1 0 1,0 16.2,0a8.1,8.1 0 1,0 -16.2,0M326.7,681.2a8.1,8.1 0 1,0 16.2,0a8.1,8.1 0 1,0 -16.2,0M331.3,678.9a8.1,8.1 0 1,0 16.2,0a8.1,8.1 0 1,0 -16.2,0M333.6,676.6a8.1,8.1 0 1,0 16.2,0a8.1,8.1 0 1,0 -16.2,0M338.2,674.3a8.1,8.1 0 1,0 16.2,0a8.1,8.1 0 1,0 -16.2,0M342.8,674.3a8.1,8.1 0 1,0 16.2,0a8.1,8.1 0 1,0 -16.2,0M347.4,669.7a8.1,8.1 0 1,0 16.2,0a8.1,8.1 0 1,0 -16.2,0M352,667.4a8.1,8.1 0 1,0 16.2,0a8.1,8.1 0 1,0 -16.2,0M356.6,665.1a8.1,8.1 0 1,0 16.2,0a8.1,8.1 0 1,0 -16.2,0M359,662.8a8.1,8.1 0 1,0 16.2,0a8.1,8.1 0 1,0 -16.2,0M363.6,660.5a8.1,8.1 0 1,0 16.2,0a8.1,8.1 0 1,0 -16.2,0M368.2,655.9a8.1,8.1 0 1,0 16.2,0a8.1,8.1 0 1,0 -16.2,0M372.8,653.5a8.1,8.1 0 1,0 16.2,0a8.1,8.1 0 1,0 -16.2,0M377.4,648.9a8.1,8.1 0 1,0 16.2,0a8.1,8.1 0 1,0 -16.2,0M382,646.6a8.1,8.1 0 1,0 16.2,0a8.1,8.1 0 1,0 -16.2,0M384.3,644.3a8.1,8.1 0 1,0 16.2,0a8.1,8.1 0 1,0 -16.2,0M388.9,639.7a8.1,8.1 0 1,0 16.2,0a8.1,8.1 0 1,0 -16.2,0M393.5,637.4a8.1,8.1 0 1,0 16.2,0a8.1,8.1 0 1,0 -16.2,0M398.1,635.1a8.1,8.1 0 1,0 16.2,0a8.1,8.1 0 1,0 -16.2,0M402.7,632.8a8.1,8.1 0 1,0 16.2,0a8.1,8.1 0 1,0 -16.2,0M405,630.5a8.1,8.1 0 1,0 16.2,0a8.1,8.1 0 1,0 -16.2,0M409.7,628.2a8.1,8.1 0 1,0 16.2,0a8.1,8.1 0 1,0 -16.2,0M414.3,625.9a8.1,8.1 0 1,0 16.2,0a8.1,8.1 0 1,0 -16.2,0M418.9,623.6a8.1,8.1 0 1,0 16.2,0a8.1,8.1 0 1,0 -16.2,0M423.5,621.3a8.1,8.1 0 1,0 16.2,0a8.1,8.1 0 1,0 -16.2,0M428.1,619a8.1,8.1 0 1,0 16.2,0a8.1,8.1 0 1,0 -16.2,0M430.4,616.7a8.1,8.1 0 1,0 16.2,0a8.1,8.1 0 1,0 -16.2,0M435,614.4a8.1,8.1 0 1,0 16.2,0a8.1,8.1 0 1,0 -16.2,0M439.6,609.8a8.1,8.1 0 1,0 16.2,0a8.1,8.1 0 1,0 -16.2,0M444.2,607.5a8.1,8.1 0 1,0 16.2,0a8.1,8.1 0 1,0 -16.2,0M448.8,605.2a8.1,8.1 0 1,0 16.2,0a8.1,8.1 0 1,0 -16.2,0M453.4,602.8a8.1,8.1 0 1,0 16.2,0a8.1,8.1 0 1,0 -16.2,0M455.7,598.2a8.1,8.1 0 1,0 16.2,0a8.1,8.1 0 1,0 -16.2,0M460.4,595.9a8.1,8.1 0 1,0 16.2,0a8.1,8.1 0 1,0 -16.2,0M465,591.3a8.1,8.1 0 1,0 16.2,0a8.1,8.1 0 1,0 -16.2,0M469.6,586.7a8.1,8.1 0 1,0 16.2,0a8.1,8.1 0 1,0 -16.2,0M474.2,584.4a8.1,8.1 0 1,0 16.2,0a8.1,8.1 0 1,0 -16.2,0M476.5,579.8a8.1,8.1 0 1,0 16.2,0a8.1,8.1 0 1,0 -16.2,0M481.1,575.2a8.1,8.1 0 1,0 16.2,0a8.1,8.1 0 1,0 -16.2,0M485.7,572.9a8.1,8.1 0 1,0 16.2,0a8.1,8.1 0 1,0 -16.2,0M490.3,568.3a8.1,8.1 0 1,0 16.2,0a8.1,8.1 0 1,0 -16.2,0M494.9,563.7a8.1,8.1 0 1,0 16.2,0a8.1,8.1 0 1,0 -16.2,0M499.5,561.4a8.1,8.1 0 1,0 16.2,0a8.1,8.1 0 1,0 -16.2,0M501.8,559.1a8.1,8.1 0 1,0 16.2,0a8.1,8.1 0 1,0 -16.2,0M506.4,554.5a8.1,8.1 0 1,0 16.2,0a8.1,8.1 0 1,0 -16.2,0M511.1,552.1a8.1,8.1 0 1,0 16.2,0a8.1,8.1 0 1,0 -16.2,0M515.7,549.8a8.1,8.1 0 1,0 16.2,0a8.1,8.1 0 1,0 -16.2,0M520.3,545.2a8.1,8.1 0 1,0 16.2,0a8.1,8.1 0 1,0 -16.2,0M522.6,542.9a8.1,8.1 0 1,0 16.2,0a8.1,8.1 0 1,0 -16.2,0M527.2,540.6a8.1,8.1 0 1,0 16.2,0a8.1,8.1 0 1,0 -16.2,0M531.8,538.3a8.1,8.1 0 1,0 16.2,0a8.1,8.1 0 1,0 -16.2,0M536.4,536a8.1,8.1 0 1,0 16.2,0a8.1,8.1 0 1,0 -16.2,0M541,533.7a8.1,8.1 0 1,0 16.2,0a8.1,8.1 0 1,0 -16.2,0M545.6,531.4a8.1,8.1 0 1,0 16.2,0a8.1,8.1 0 1,0 -16.2,0M547.9,529.1a8.1,8.1 0 1,0 16.2,0a8.1,8.1 0 1,0 -16.2,0M552.5,524.5a8.1,8.1 0 1,0 16.2,0a8.1,8.1 0 1,0 -16.2,0M557.1,522.2a8.1,8.1 0 1,0 16.2,0a8.1,8.1 0 1,0 -16.2,0M561.7,517.6a8.1,8.1 0 1,0 16.2,0a8.1,8.1 0 1,0 -16.2,0M566.4,515.3a8.1,8.1 0 1,0 16.2,0a8.1,8.1 0 1,0 -16.2,0M571,510.7a8.1,8.1 0 1,0 16.2,0a8.1,8.1 0 1,0 -16.2,0M573.3,508.4a8.1,8.1 0 1,0 16.2,0a8.1,8.1 0 1,0 -16.2,0M577.9,506.1a8.1,8.1 0 1,0 16.2,0a8.1,8.1 0 1,0 -16.2,0M582.5,501.4a8.1,8.1 0 1,0 16.2,0a8.1,8.1 0 1,0 -16.2,0M587.1,499.1a8.1,8.1 0 1,0 16.2,0a8.1,8.1 0 1,0 -16.2,0M591.7,494.5a8.1,8.1 0 1,0 16.2,0a8.1,8.1 0 1,0 -16.2,0M594,489.9a8.1,8.1 0 1,0 16.2,0a8.1,8.1 0 1,0 -16.2,0M598.6,483a8.1,8.1 0 1,0 16.2,0a8.1,8.1 0 1,0 -16.2,0M603.2,478.4a8.1,8.1 0 1,0 16.2,0a8.1,8.1 0 1,0 -16.2,0M607.8,471.5a8.1,8.1 0 1,0 16.2,0a8.1,8.1 0 1,0 -16.2,0M612.4,466.9a8.1,8.1 0 1,0 16.2,0a8.1,8.1 0 1,0 -16.2,0M617.1,464.6a8.1,8.1 0 1,0 16.2,0a8.1,8.1 0 1,0 -16.2,0M619.4,460a8.1,8.1 0 1,0 16.2,0a8.1,8.1 0 1,0 -16.2,0M624,455.4a8.1,8.1 0 1,0 16.2,0a8.1,8.1 0 1,0 -16.2,0M628.6,450.8a8.1,8.1 0 1,0 16.2,0a8.1,8.1 0 1,0 -16.2,0M633.2,446.1a8.1,8.1 0 1,0 16.2,0a8.1,8.1 0 1,0 -16.2,0M637.8,443.8a8.1,8.1 0 1,0 16.2,0a8.1,8.1 0 1,0 -16.2,0M642.4,439.2a8.1,8.1 0 1,0 16.2,0a8.1,8.1 0 1,0 -16.2,0M644.7,434.6a8.1,8.1 0 1,0 16.2,0a8.1,8.1 0 1,0 -16.2,0M649.3,432.3a8.1,8.1 0 1,0 16.2,0a8.1,8.1 0 1,0 -16.2,0M653.9,427.7a8.1,8.1 0 1,0 16.2,0a8.1,8.1 0 1,0 -16.2,0M658.5,425.4a8.1,8.1 0 1,0 16.2,0a8.1,8.1 0 1,0 -16.2,0M663.1,423.1a8.1,8.1 0 1,0 16.2,0a8.1,8.1 0 1,0 -16.2,0M665.5,420.8a8.1,8.1 0 1,0 16.2,0a8.1,8.1 0 1,0 -16.2,0M670.1,416.2a8.1,8.1 0 1,0 16.2,0a8.1,8.1 0 1,0 -16.2,0M674.7,413.9a8.1,8.1 0 1,0 16.2,0a8.1,8.1 0 1,0 -16.2,0M679.3,409.3a8.1,8.1 0 1,0 16.2,0a8.1,8.1 0 1,0 -16.2,0M683.9,404.7a8.1,8.1 0 1,0 16.2,0a8.1,8.1 0 1,0 -16.2,0M688.5,400.1a8.1,8.1 0 1,0 16.2,0a8.1,8.1 0 1,0 -16.2,0M690.8,395.4a8.1,8.1 0 1,0 16.2,0a8.1,8.1 0 1,0 -16.2,0M695.4,390.8a8.1,8.1 0 1,0 16.2,0a8.1,8.1 0 1,0 -16.2,0M700,386.2a8.1,8.1 0 1,0 16.2,0a8.1,8.1 0 1,0 -16.2,0M704.6,383.9a8.1,8.1 0 1,0 16.2,0a8.1,8.1 0 1,0 -16.2,0M709.2,379.3a8.1,8.1 0 1,0 16.2,0a8.1,8.1 0 1,0 -16.2,0M711.5,374.7a8.1,8.1 0 1,0 16.2,0a8.1,8.1 0 1,0 -16.2,0M716.2,367.8a8.1,8.1 0 1,0 16.2,0a8.1,8.1 0 1,0 -16.2,0M720.8,363.2a8.1,8.1 0 1,0 16.2,0a8.1,8.1 0 1,0 -16.2,0M725.4,358.6a8.1,8.1 0 1,0 16.2,0a8.1,8.1 0 1,0 -16.2,0M730,351.7a8.1,8.1 0 1,0 16.2,0a8.1,8.1 0 1,0 -16.2,0M734.6,347a8.1,8.1 0 1,0 16.2,0a8.1,8.1 0 1,0 -16.2,0M736.9,342.4a8.1,8.1 0 1,0 16.2,0a8.1,8.1 0 1,0 -16.2,0M741.5,335.5a8.1,8.1 0 1,0 16.2,0a8.1,8.1 0 1,0 -16.2,0M746.1,333.2a8.1,8.1 0 1,0 16.2,0a8.1,8.1 0 1,0 -16.2,0M750.7,328.6a8.1,8.1 0 1,0 16.2,0a8.1,8.1 0 1,0 -16.2,0M755.3,324a8.1,8.1 0 1,0 16.2,0a8.1,8.1 0 1,0 -16.2,0M759.9,319.4a8.1,8.1 0 1,0 16.2,0a8.1,8.1 0 1,0 -16.2,0M762.2,317.1a8.1,8.1 0 1,0 16.2,0a8.1,8.1 0 1,0 -16.2,0M766.9,314.8a8.1,8.1 0 1,0 16.2,0a8.1,8.1 0 1,0 -16.2,0M771.5,312.5a8.1,8.1 0 1,0 16.2,0a8.1,8.1 0 1,0 -16.2,0M776.1,307.9a8.1,8.1 0 1,0 16.2,0a8.1,8.1 0 1,0 -16.2,0M780.7,303.3a8.1,8.1 0 1,0 16.2,0a8.1,8.1 0 1,0 -16.2,0M783,301a8.1,8.1 0 1,0 16.2,0a8.1,8.1 0 1,0 -16.2,0M787.6,298.7a8.1,8.1 0 1,0 16.2,0a8.1,8.1 0 1,0 -16.2,0M792.2,294a8.1,8.1 0 1,0 16.2,0a8.1,8.1 0 1,0 -16.2,0M796.8,291.7a8.1,8.1 0 1,0 16.2,0a8.1,8.1 0 1,0 -16.2,0M801.4,289.4a8.1,8.1 0 1,0 16.2,0a8.1,8.1 0 1,0 -16.2,0M801.4,287.1a8.1,8.1 0 1,0 16.2,0a8.1,8.1 0 1,0 -16.2,0" fill="none" stroke="#0f0" stroke-width="2.15"/><path d="M227.2,625.9h17M235.7,617.4v17M231,621.2l9.4,9.4M231,630.6l9.4,-9.4M229.5,628.2h17M238,619.7v17M233.3,623.5l9.4,9.4M233.3,632.9l9.4,-9.4M231.8,628.2h17M240.3,619.7v17M235.6,623.5l9.4,9.4M235.6,632.9l9.4,-9.4M234.1,630.5h17M242.6,622v17M237.9,625.8l9.4,9.4M237.9,635.2l9.4,-9.4M238.7,630.5h17M247.2,622v17M242.5,625.8l9.4,9.4M242.5,635.2l9.4,-9.4M243.3,632.8h17M251.8,624.3v17M247.1,628.1l9.4,9.4M247.1,637.5l9.4,-9.4M245.6,632.8h17M254.1,624.3v17M249.4,628.1l9.4,9.4M249.4,637.5l9.4,-9.4M250.2,632.8h17M258.7,624.3v17M254,628.1l9.4,9.4M254,637.5l9.4,-9.4M254.9,635.1h17M263.4,626.6v17M258.7,630.4l9.4,9.4M258.7,639.8l9.4,-9.4M259.5,635.1h17M268,626.6v17M263.3,630.4l9.4,9.4M263.3,639.8l9.4,-9.4M261.8,635.1h17M270.3,626.6v17M265.6,630.4l9.4,9.4M265.6,639.8l9.4,-9.4M266.4,635.1h17M274.9,626.6v17M270.2,630.4l9.4,9.4M270.2,639.8l9.4,-9.4M271,635.1h17M279.5,626.6v17M274.8,630.4l9.4,9.4M274.8,639.8l9.4,-9.4M275.6,635.1h17M284.1,626.6v17M279.4,630.4l9.4,9.4M279.4,639.8l9.4,-9.4M280.2,635.1h17M288.7,626.6v17M284,630.4l9.4,9.4M284,639.8l9.4,-9.4M282.5,635.1h17M291,626.6v17M286.3,630.4l9.4,9.4M286.3,639.8l9.4,-9.4M287.1,635.1h17M295.6,626.6v17M290.9,630.4l9.4,9.4M290.9,639.8l9.4,-9.4M291.7,635.1h17M300.2,626.6v17M295.5,630.4l9.4,9.4M295.5,639.8l9.4,-9.4M296.3,635.1h17M304.8,626.6v17M300.1,630.4l9.4,9.4M300.1,639.8l9.4,-9.4M300.9,635.1h17M309.4,626.6v17M304.7,630.4l9.4,9.4M304.7,639.8l9.4,-9.4M303.2,635.1h17M311.7,626.6v17M307,630.4l9.4,9.4M307,639.8l9.4,-9.4M307.9,635.1h17M316.4,626.6v17M311.7,630.4l9.4,9.4M311.7,639.8l9.4,-9.4M312.5,632.8h17M321,624.3v17M316.3,628.1l9.4,9.4M316.3,637.5l9.4,-9.4M317.1,632.8h17M325.6,624.3v17M320.9,628.1l9.4,9.4M320.9,637.5l9.4,-9.4M319.4,632.8h17M327.9,624.3v17M323.2,628.1l9.4,9.4M323.2,637.5l9.4,-9.4M324,632.8h17M332.5,624.3v17M327.8,628.1l9.4,9.4M327.8,637.5l9.4,-9.4M328.6,632.8h17M337.1,624.3v17M332.4,628.1l9.4,9.4M332.4,637.5l9.4,-9.4M333.2,630.5h17M341.7,622v17M337,625.8l9.4,9.4M337,635.2l9.4,-9.4M337.8,630.5h17M346.3,622v17M341.6,625.8l9.4,9.4M341.6,635.2l9.4,-9.4M340.1,630.5h17M348.6,622v17M343.9,625.8l9.4,9.4M343.9,635.2l9.4,-9.4M344.7,630.5h17M353.2,622v17M348.5,625.8l9.4,9.4M348.5,635.2l9.4,-9.4M349.3,630.5h17M357.8,622v17M353.1,625.8l9.4,9.4M353.1,635.2l9.4,-9.4M353.9,630.5h17M362.4,622v17M357.7,625.8l9.4,9.4M357.7,635.2l9.4,-9.4M356.2,628.2h17M364.7,619.7v17M360,623.5l9.4,9.4M360,632.9l9.4,-9.4M360.9,628.2h17M369.4,619.7v17M364.7,623.5l9.4,9.4M364.7,632.9l9.4,-9.4M365.5,628.2h17M374,619.7v17M369.3,623.5l9.4,9.4M369.3,632.9l9.4,-9.4M370.1,625.9h17M378.6,617.4v17M373.9,621.2l9.4,9.4M373.9,630.6l9.4,-9.4M374.7,625.9h17M383.2,617.4v17M378.5,621.2l9.4,9.4M378.5,630.6l9.4,-9.4M377,623.6h17M385.5,615.1v17M380.8,618.9l9.4,9.4M380.8,628.3l9.4,-9.4M381.6,621.3h17M390.1,612.8v17M385.4,616.6l9.4,9.4M385.4,626l9.4,-9.4M386.2,616.7h17M394.7,608.2v17M390,612l9.4,9.4M390,621.4l9.4,-9.4M390.8,614.4h17M399.3,605.9v17M394.6,609.7l9.4,9.4M394.6,619.1l9.4,-9.4M393.1,614.4h17M401.6,605.9v17M396.9,609.7l9.4,9.4M396.9,619.1l9.4,-9.4M397.7,612.1h17M406.2,603.6v17M401.5,607.4l9.4,9.4M401.5,616.8l9.4,-9.4M402.3,609.8h17M410.8,601.3v17M406.1,605.1l9.4,9.4M406.1,614.5l9.4,-9.4M406.9,607.5h17M415.4,599v17M410.7,602.8l9.4,9.4M410.7,612.2l9.4,-9.4M411.6,605.2h17M420.1,596.7v17M415.4,600.5l9.4,9.4M415.4,609.9l9.4,-9.4M413.9,602.8h17M422.4,594.3v17M417.7,598.1l9.4,9.4M417.7,607.5l9.4,-9.4M418.5,600.5h17M427,592v17M422.3,595.8l9.4,9.4M422.3,605.2l9.4,-9.4M423.1,598.2h17M431.6,589.7v17M426.9,593.5l9.4,9.4M426.9,602.9l9.4,-9.4M427.7,593.6h17M436.2,585.1v17M431.5,588.9l9.4,9.4M431.5,598.3l9.4,-9.4M430,591.3h17M438.5,582.8v17M433.8,586.6l9.4,9.4M433.8,596l9.4,-9.4M434.6,586.7h17M443.1,578.2v17M438.4,582l9.4,9.4M438.4,591.4l9.4,-9.4M439.2,584.4h17M447.7,575.9v17M443,579.7l9.4,9.4M443,589.1l9.4,-9.4M443.8,582.1h17M452.3,573.6v17M447.6,577.4l9.4,9.4M447.6,586.8l9.4,-9.4M448.4,577.5h17M456.9,569v17M452.2,572.8l9.4,9.4M452.2,582.2l9.4,-9.4M450.7,575.2h17M459.2,566.7v17M454.5,570.5l9.4,9.4M454.5,579.9l9.4,-9.4M455.3,572.9h17M463.8,564.4v17M459.1,568.2l9.4,9.4M459.1,577.6l9.4,-9.4M460,568.3h17M468.5,559.8v17M463.8,563.6l9.4,9.4M463.8,573l9.4,-9.4M464.6,566h17M473.1,557.5v17M468.4,561.3l9.4,9.4M468.4,570.7l9.4,-9.4M466.9,561.4h17M475.4,552.9v17M470.7,556.7l9.4,9.4M470.7,566.1l9.4,-9.4M471.5,559.1h17M480,550.6v17M475.3,554.4l9.4,9.4M475.3,563.8l9.4,-9.4M476.1,556.8h17M484.6,548.3v17M479.9,552.1l9.4,9.4M479.9,561.5l9.4,-9.4M480.7,552.1h17M489.2,543.6v17M484.5,547.4l9.4,9.4M484.5,556.8l9.4,-9.4M485.3,549.8h17M493.8,541.3v17M489.1,545.1l9.4,9.4M489.1,554.5l9.4,-9.4M487.6,547.5h17M496.1,539v17M491.4,542.8l9.4,9.4M491.4,552.2l9.4,-9.4M492.2,545.2h17M500.7,536.7v17M496,540.5l9.4,9.4M496,549.9l9.4,-9.4M496.8,542.9h17M505.3,534.4v17M500.6,538.2l9.4,9.4M500.6,547.6l9.4,-9.4M501.4,540.6h17M509.9,532.1v17M505.2,535.9l9.4,9.4M505.2,545.3l9.4,-9.4M503.7,538.3h17M512.2,529.8v17M507.5,533.6l9.4,9.4M507.5,543l9.4,-9.4M508.3,536h17M516.8,527.5v17M512.1,531.3l9.4,9.4M512.1,540.7l9.4,-9.4M513,531.4h17M521.5,522.9v17M516.8,526.7l9.4,9.4M516.8,536.1l9.4,-9.4M517.6,529.1h17M526.1,520.6v17M521.4,524.4l9.4,9.4M521.4,533.8l9.4,-9.4M522.2,524.5h17M530.7,516v17M526,519.8l9.4,9.4M526,529.2l9.4,-9.4M524.5,522.2h17M533,513.7v17M528.3,517.5l9.4,9.4M528.3,526.9l9.4,-9.4M529.1,517.6h17M537.6,509.1v17M532.9,512.9l9.4,9.4M532.9,522.3l9.4,-9.4M533.7,513h17M542.2,504.5v17M537.5,508.3l9.4,9.4M537.5,517.7l9.4,-9.4M538.3,510.7h17M546.8,502.2v17M542.1,506l9.4,9.4M542.1,515.4l9.4,-9.4M540.6,506.1h17M549.1,497.6v17M544.4,501.4l9.4,9.4M544.4,510.8l9.4,-9.4M545.2,501.4h17M553.7,492.9v17M549,496.8l9.4,9.4M549,506.1l9.4,-9.4M549.8,496.8h17M558.3,488.3v17M553.6,492.1l9.4,9.4M553.6,501.5l9.4,-9.4M554.4,492.2h17M562.9,483.7v17M558.2,487.5l9.4,9.4M558.2,496.9l9.4,-9.4M559,487.6h17M567.5,479.1v17M562.8,482.9l9.4,9.4M562.8,492.3l9.4,-9.4M561.3,480.7h17M569.8,472.2v17M565.1,476l9.4,9.4M565.1,485.4l9.4,-9.4M566,476.1h17M574.5,467.6v17M569.8,471.4l9.4,9.4M569.8,480.8l9.4,-9.4M570.6,471.5h17M579.1,463v17M574.4,466.8l9.4,9.4M574.4,476.2l9.4,-9.4M575.2,466.9h17M583.7,458.4v17M579,462.2l9.4,9.4M579,471.6l9.4,-9.4M577.5,464.6h17M586,456.1v17M581.3,459.9l9.4,9.4M581.3,469.3l9.4,-9.4M582.1,460h17M590.6,451.5v17M585.9,455.3l9.4,9.4M585.9,464.7l9.4,-9.4M586.7,457.7h17M595.2,449.2v17M590.5,453l9.4,9.4M590.5,462.4l9.4,-9.4M591.3,455.4h17M599.8,446.9v17M595.1,450.7l9.4,9.4M595.1,460.1l9.4,-9.4M595.9,450.8h17M604.4,442.3v17M599.7,446.1l9.4,9.4M599.7,455.5l9.4,-9.4M598.2,448.4h17M606.7,439.9v17M602,443.7l9.4,9.4M602,453.1l9.4,-9.4M602.8,443.8h17M611.3,435.3v17M606.6,439.1l9.4,9.4M606.6,448.5l9.4,-9.4M607.4,441.5h17M615.9,433v17M611.2,436.8l9.4,9.4M611.2,446.2l9.4,-9.4M612,439.2h17M620.5,430.7v17M615.8,434.5l9.4,9.4M615.8,443.9l9.4,-9.4M614.4,434.6h17M622.9,426.1v17M618.2,429.9l9.4,9.4M618.2,439.3l9.4,-9.4M619,432.3h17M627.5,423.8v17M622.8,427.6l9.4,9.4M622.8,437l9.4,-9.4M623.6,430h17M632.1,421.5v17M627.4,425.3l9.4,9.4M627.4,434.7l9.4,-9.4M628.2,425.4h17M636.7,416.9v17M632,420.7l9.4,9.4M632,430.1l9.4,-9.4M632.8,423.1h17M641.3,414.6v17M636.6,418.4l9.4,9.4M636.6,427.8l9.4,-9.4M635.1,418.5h17M643.6,410v17M638.9,413.8l9.4,9.4M638.9,423.2l9.4,-9.4M639.7,413.9h17M648.2,405.4v17M643.5,409.2l9.4,9.4M643.5,418.6l9.4,-9.4M644.3,407h17M652.8,398.5v17M648.1,402.3l9.4,9.4M648.1,411.7l9.4,-9.4M648.9,402.4h17M657.4,393.9v17M652.7,397.7l9.4,9.4M652.7,407.1l9.4,-9.4M653.5,395.4h17M662,386.9v17M657.3,390.7l9.4,9.4M657.3,400.1l9.4,-9.4M655.8,390.8h17M664.3,382.3v17M659.6,386.1l9.4,9.4M659.6,395.5l9.4,-9.4M660.4,388.5h17M668.9,380v17M664.2,383.8l9.4,9.4M664.2,393.2l9.4,-9.4M665.1,383.9h17M673.6,375.4v17M668.9,379.2l9.4,9.4M668.9,388.6l9.4,-9.4M669.7,379.3h17M678.2,370.8v17M673.5,374.6l9.4,9.4M673.5,384l9.4,-9.4M672,374.7h17M680.5,366.2v17M675.8,370l9.4,9.4M675.8,379.4l9.4,-9.4M676.6,367.8h17M685.1,359.3v17M680.4,363.1l9.4,9.4M680.4,372.5l9.4,-9.4M681.2,363.2h17M689.7,354.7v17M685,358.5l9.4,9.4M685,367.9l9.4,-9.4M685.8,358.6h17M694.3,350.1v17M689.6,353.9l9.4,9.4M689.6,363.3l9.4,-9.4M690.4,354h17M698.9,345.5v17M694.2,349.3l9.4,9.4M694.2,358.7l9.4,-9.4M692.7,351.7h17M701.2,343.2v17M696.5,347l9.4,9.4M696.5,356.4l9.4,-9.4M697.3,347h17M705.8,338.5v17M701.1,342.3l9.4,9.4M701.1,351.7l9.4,-9.4M701.9,344.7h17M710.4,336.2v17M705.7,340l9.4,9.4M705.7,349.4l9.4,-9.4M706.5,340.1h17M715,331.6v17M710.3,335.4l9.4,9.4M710.3,344.8l9.4,-9.4M708.8,337.8h17M717.3,329.3v17M712.6,333.1l9.4,9.4M712.6,342.5l9.4,-9.4M713.4,333.2h17M721.9,324.7v17M717.2,328.5l9.4,9.4M717.2,337.9l9.4,-9.4M718.1,328.6h17M726.6,320.1v17M721.9,323.9l9.4,9.4M721.9,333.3l9.4,-9.4M722.7,326.3h17M731.2,317.8v17M726.5,321.6l9.4,9.4M726.5,331l9.4,-9.4M727.3,321.7h17M735.8,313.2v17M731.1,317l9.4,9.4M731.1,326.4l9.4,-9.4M729.6,317.1h17M738.1,308.6v17M733.4,312.4l9.4,9.4M733.4,321.8l9.4,-9.4M734.2,314.8h17M742.7,306.3v17M738,310.1l9.4,9.4M738,319.5l9.4,-9.4M738.8,310.2h17M747.3,301.7v17M742.6,305.5l9.4,9.4M742.6,314.9l9.4,-9.4M743.4,305.6h17M751.9,297.1v17M747.2,300.9l9.4,9.4M747.2,310.3l9.4,-9.4M745.7,301h17M754.2,292.5v17M749.5,296.3l9.4,9.4M749.5,305.7l9.4,-9.4M750.3,296.3h17M758.8,287.8v17M754.1,291.6l9.4,9.4M754.1,301l9.4,-9.4M754.9,291.7h17M763.4,283.2v17M758.7,287l9.4,9.4M758.7,296.4l9.4,-9.4M759.5,287.1h17M768,278.6v17M763.3,282.4l9.4,9.4M763.3,291.8l9.4,-9.4M764.1,282.5h17M772.6,274v17M767.9,277.8l9.4,9.4M767.9,287.2l9.4,-9.4M766.5,277.9h17M775,269.4v17M770.2,273.2l9.4,9.4M770.2,282.6l9.4,-9.4M771.1,273.3h17M779.6,264.8v17M774.9,268.6l9.4,9.4M774.9,278l9.4,-9.4M775.7,268.7h17M784.2,260.2v17M779.5,264l9.4,9.4M779.5,273.4l9.4,-9.4M780.3,264.1h17M788.8,255.6v17M784.1,259.4l9.4,9.4M784.1,268.8l9.4,-9.4M782.6,259.5h17M791.1,251v17M786.4,254.8l9.4,9.4M786.4,264.2l9.4,-9.4M787.2,254.9h17M795.7,246.4v17M791,250.2l9.4,9.4M791,259.6l9.4,-9.4M791.8,250.3h17M800.3,241.8v17M795.6,245.6l9.4,9.4M795.6,255l9.4,-9.4" fill="none" stroke="#00f" stroke-width="1.95"/><path d="M174.6,658.2a8.1,8.1 0 1,0 16.2,0a8.1,8.1 0 1,0 -16.2,0M176.9,658.2a8.1,8.1 0 1,0 16.2,0a8.1,8.1 0 1,0 -16.2,0M179.2,658.2a8.1,8.1 0 1,0 16.2,0a8.1,8.1 0 1,0 -16.2,0M181.5,658.2a8.1,8.1 0 1,0 16.2,0a8.1,8.1 0 1,0 -16.2,0M183.8,658.2a8.1,8.1 0 1,0 16.2,0a8.1,8.1 0 1,0 -16.2,0M186.1,658.2a8.1,8.1 0 1,0 16.2,0a8.1,8.1 0 1,0 -16.2,0M188.4,658.2a8.1,8.1 0 1,0 16.2,0a8.1,8.1 0 1,0 -16.2,0M193,658.2a8.1,8.1 0 1,0 16.2,0a8.1,8.1 0 1,0 -16.2,0M197.6,655.9a8.1,8.1 0 1,0 16.2,0a8.1,8.1 0 1,0 -16.2,0M202.2,653.5a8.1,8.1 0 1,0 16.2,0a8.1,8.1 0 1,0 -16.2,0M206.9,651.2a8.1,8.1 0 1,0 16.2,0a8.1,8.1 0 1,0 -16.2,0M209.2,648.9a8.1,8.1 0 1,0 16.2,0a8.1,8.1 0 1,0 -16.2,0M213.8,646.6a8.1,8.1 0 1,0 16.2,0a8.1,8.1 0 1,0 -16.2,0M218.4,642a8.1,8.1 0 1,0 16.2,0a8.1,8.1 0 1,0 -16.2,0M223,639.7a8.1,8.1 0 1,0 16.2,0a8.1,8.1 0 1,0 -16.2,0M227.6,637.4a8.1,8.1 0 1,0 16.2,0a8.1,8.1 0 1,0 -16.2,0M232.2,632.8a8.1,8.1 0 1,0 16.2,0a8.1,8.1 0 1,0 -16.2,0M236.8,630.5a8.1,8.1 0 1,0 16.2,0a8.1,8.1 0 1,0 -16.2,0M239.1,625.9a8.1,8.1 0 1,0 16.2,0a8.1,8.1 0 1,0 -16.2,0M243.7,621.3a8.1,8.1 0 1,0 16.2,0a8.1,8.1 0 1,0 -16.2,0M248.3,619a8.1,8.1 0 1,0 16.2,0a8.1,8.1 0 1,0 -16.2,0M252.9,616.7a8.1,8.1 0 1,0 16.2,0a8.1,8.1 0 1,0 -16.2,0M257.6,614.4a8.1,8.1 0 1,0 16.2,0a8.1,8.1 0 1,0 -16.2,0M262.2,609.8a8.1,8.1 0 1,0 16.2,0a8.1,8.1 0 1,0 -16.2,0M266.8,607.5a8.1,8.1 0 1,0 16.2,0a8.1,8.1 0 1,0 -16.2,0M271.4,605.2a8.1,8.1 0 1,0 16.2,0a8.1,8.1 0 1,0 -16.2,0M273.7,600.5a8.1,8.1 0 1,0 16.2,0a8.1,8.1 0 1,0 -16.2,0M278.3,598.2a8.1,8.1 0 1,0 16.2,0a8.1,8.1 0 1,0 -16.2,0M282.9,595.9a8.1,8.1 0 1,0 16.2,0a8.1,8.1 0 1,0 -16.2,0M287.5,591.3a8.1,8.1 0 1,0 16.2,0a8.1,8.1 0 1,0 -16.2,0M292.1,589a8.1,8.1 0 1,0 16.2,0a8.1,8.1 0 1,0 -16.2,0M296.7,586.7a8.1,8.1 0 1,0 16.2,0a8.1,8.1 0 1,0 -16.2,0M301.3,584.4a8.1,8.1 0 1,0 16.2,0a8.1,8.1 0 1,0 -16.2,0M303.6,582.1a8.1,8.1 0 1,0 16.2,0a8.1,8.1 0 1,0 -16.2,0M308.3,579.8a8.1,8.1 0 1,0 16.2,0a8.1,8.1 0 1,0 -16.2,0M312.9,575.2a8.1,8.1 0 1,0 16.2,0a8.1,8.1 0 1,0 -16.2,0M317.5,572.9a8.1,8.1 0 1,0 16.2,0a8.1,8.1 0 1,0 -16.2,0M322.1,568.3a8.1,8.1 0 1,0 16.2,0a8.1,8.1 0 1,0 -16.2,0M326.7,563.7a8.1,8.1 0 1,0 16.2,0a8.1,8.1 0 1,0 -16.2,0M331.3,561.4a8.1,8.1 0 1,0 16.2,0a8.1,8.1 0 1,0 -16.2,0M335.9,556.8a8.1,8.1 0 1,0 16.2,0a8.1,8.1 0 1,0 -16.2,0M338.2,554.5a8.1,8.1 0 1,0 16.2,0a8.1,8.1 0 1,0 -16.2,0M342.8,549.8a8.1,8.1 0 1,0 16.2,0a8.1,8.1 0 1,0 -16.2,0M347.4,547.5a8.1,8.1 0 1,0 16.2,0a8.1,8.1 0 1,0 -16.2,0M352,545.2a8.1,8.1 0 1,0 16.2,0a8.1,8.1 0 1,0 -16.2,0M356.6,540.6a8.1,8.1 0 1,0 16.2,0a8.1,8.1 0 1,0 -16.2,0M361.3,538.3a8.1,8.1 0 1,0 16.2,0a8.1,8.1 0 1,0 -16.2,0M365.9,536a8.1,8.1 0 1,0 16.2,0a8.1,8.1 0 1,0 -16.2,0M368.2,531.4a8.1,8.1 0 1,0 16.2,0a8.1,8.1 0 1,0 -16.2,0M372.8,529.1a8.1,8.1 0 1,0 16.2,0a8.1,8.1 0 1,0 -16.2,0M377.4,526.8a8.1,8.1 0 1,0 16.2,0a8.1,8.1 0 1,0 -16.2,0M382,522.2a8.1,8.1 0 1,0 16.2,0a8.1,8.1 0 1,0 -16.2,0M386.6,519.9a8.1,8.1 0 1,0 16.2,0a8.1,8.1 0 1,0 -16.2,0M391.2,517.6a8.1,8.1 0 1,0 16.2,0a8.1,8.1 0 1,0 -16.2,0M395.8,515.3a8.1,8.1 0 1,0 16.2,0a8.1,8.1 0 1,0 -16.2,0M398.1,513a8.1,8.1 0 1,0 16.2,0a8.1,8.1 0 1,0 -16.2,0M402.7,510.7a8.1,8.1 0 1,0 16.2,0a8.1,8.1 0 1,0 -16.2,0M407.3,508.4a8.1,8.1 0 1,0 16.2,0a8.1,8.1 0 1,0 -16.2,0M412,506.1a8.1,8.1 0 1,0 16.2,0a8.1,8.1 0 1,0 -16.2,0M416.6,503.8a8.1,8.1 0 1,0 16.2,0a8.1,8.1 0 1,0 -16.2,0M421.2,499.1a8.1,8.1 0 1,0 16.2,0a8.1,8.1 0 1,0 -16.2,0M425.8,496.8a8.1,8.1 0 1,0 16.2,0a8.1,8.1 0 1,0 -16.2,0M430.4,492.2a8.1,8.1 0 1,0 16.2,0a8.1,8.1 0 1,0 -16.2,0M432.7,487.6a8.1,8.1 0 1,0 16.2,0a8.1,8.1 0 1,0 -16.2,0M437.3,485.3a8.1,8.1 0 1,0 16.2,0a8.1,8.1 0 1,0 -16.2,0M441.9,480.7a8.1,8.1 0 1,0 16.2,0a8.1,8.1 0 1,0 -16.2,0M446.5,476.1a8.1,8.1 0 1,0 16.2,0a8.1,8.1 0 1,0 -16.2,0M451.1,471.5a8.1,8.1 0 1,0 16.2,0a8.1,8.1 0 1,0 -16.2,0M455.7,466.9a8.1,8.1 0 1,0 16.2,0a8.1,8.1 0 1,0 -16.2,0M460.4,462.3a8.1,8.1 0 1,0 16.2,0a8.1,8.1 0 1,0 -16.2,0M462.7,457.7a8.1,8.1 0 1,0 16.2,0a8.1,8.1 0 1,0 -16.2,0M467.3,453.1a8.1,8.1 0 1,0 16.2,0a8.1,8.1 0 1,0 -16.2,0M471.9,448.4a8.1,8.1 0 1,0 16.2,0a8.1,8.1 0 1,0 -16.2,0M476.5,443.8a8.1,8.1 0 1,0 16.2,0a8.1,8.1 0 1,0 -16.2,0M481.1,439.2a8.1,8.1 0 1,0 16.2,0a8.1,8.1 0 1,0 -16.2,0M483.4,434.6a8.1,8.1 0 1,0 16.2,0a8.1,8.1 0 1,0 -16.2,0M488,430a8.1,8.1 0 1,0 16.2,0a8.1,8.1 0 1,0 -16.2,0M492.6,427.7a8.1,8.1 0 1,0 16.2,0a8.1,8.1 0 1,0 -16.2,0M497.2,423.1a8.1,8.1 0 1,0 16.2,0a8.1,8.1 0 1,0 -16.2,0M501.8,420.8a8.1,8.1 0 1,0 16.2,0a8.1,8.1 0 1,0 -16.2,0M506.4,416.2a8.1,8.1 0 1,0 16.2,0a8.1,8.1 0 1,0 -16.2,0M508.7,413.9a8.1,8.1 0 1,0 16.2,0a8.1,8.1 0 1,0 -16.2,0M513.4,409.3a8.1,8.1 0 1,0 16.2,0a8.1,8.1 0 1,0 -16.2,0M518,407a8.1,8.1 0 1,0 16.2,0a8.1,8.1 0 1,0 -16.2,0M522.6,404.7a8.1,8.1 0 1,0 16.2,0a8.1,8.1 0 1,0 -16.2,0M524.9,400.1a8.1,8.1 0 1,0 16.2,0a8.1,8.1 0 1,0 -16.2,0M529.5,397.7a8.1,8.1 0 1,0 16.2,0a8.1,8.1 0 1,0 -16.2,0M534.1,395.4a8.1,8.1 0 1,0 16.2,0a8.1,8.1 0 1,0 -16.2,0M538.7,390.8a8.1,8.1 0 1,0 16.2,0a8.1,8.1 0 1,0 -16.2,0M543.3,388.5a8.1,8.1 0 1,0 16.2,0a8.1,8.1 0 1,0 -16.2,0M545.6,383.9a8.1,8.1 0 1,0 16.2,0a8.1,8.1 0 1,0 -16.2,0M550.2,379.3a8.1,8.1 0 1,0 16.2,0a8.1,8.1 0 1,0 -16.2,0M554.8,374.7a8.1,8.1 0 1,0 16.2,0a8.1,8.1 0 1,0 -16.2,0M559.4,370.1a8.1,8.1 0 1,0 16.2,0a8.1,8.1 0 1,0 -16.2,0M561.7,365.5a8.1,8.1 0 1,0 16.2,0a8.1,8.1 0 1,0 -16.2,0M566.4,360.9a8.1,8.1 0 1,0 16.2,0a8.1,8.1 0 1,0 -16.2,0M571,356.3a8.1,8.1 0 1,0 16.2,0a8.1,8.1 0 1,0 -16.2,0M575.6,349.4a8.1,8.1 0 1,0 16.2,0a8.1,8.1 0 1,0 -16.2,0M577.9,344.7a8.1,8.1 0 1,0 16.2,0a8.1,8.1 0 1,0 -16.2,0M582.5,340.1a8.1,8.1 0 1,0 16.2,0a8.1,8.1 0 1,0 -16.2,0M587.1,335.5a8.1,8.1 0 1,0 16.2,0a8.1,8.1 0 1,0 -16.2,0M591.7,330.9a8.1,8.1 0 1,0 16.2,0a8.1,8.1 0 1,0 -16.2,0M594,326.3a8.1,8.1 0 1,0 16.2,0a8.1,8.1 0 1,0 -16.2,0M598.6,324a8.1,8.1 0 1,0 16.2,0a8.1,8.1 0 1,0 -16.2,0M603.2,319.4a8.1,8.1 0 1,0 16.2,0a8.1,8.1 0 1,0 -16.2,0M605.5,317.1a8.1,8.1 0 1,0 16.2,0a8.1,8.1 0 1,0 -16.2,0M610.1,312.5a8.1,8.1 0 1,0 16.2,0a8.1,8.1 0 1,0 -16.2,0M614.8,307.9a8.1,8.1 0 1,0 16.2,0a8.1,8.1 0 1,0 -16.2,0M619.4,303.3a8.1,8.1 0 1,0 16.2,0a8.1,8.1 0 1,0 -16.2,0M621.7,298.7a8.1,8.1 0 1,0 16.2,0a8.1,8.1 0 1,0 -16.2,0M626.3,294a8.1,8.1 0 1,0 16.2,0a8.1,8.1 0 1,0 -16.2,0M630.9,291.7a8.1,8.1 0 1,0 16.2,0a8.1,8.1 0 1,0 -16.2,0M635.5,287.1a8.1,8.1 0 1,0 16.2,0a8.1,8.1 0 1,0 -16.2,0M637.8,284.8a8.1,8.1 0 1,0 16.2,0a8.1,8.1 0 1,0 -16.2,0M642.4,280.2a8.1,8.1 0 1,0 16.2,0a8.1,8.1 0 1,0 -16.2,0M647,277.9a8.1,8.1 0 1,0 16.2,0a8.1,8.1 0 1,0 -16.2,0M651.6,273.3a8.1,8.1 0 1,0 16.2,0a8.1,8.1 0 1,0 -16.2,0M653.9,271a8.1,8.1 0 1,0 16.2,0a8.1,8.1 0 1,0 -16.2,0M658.5,266.4a8.1,8.1 0 1,0 16.2,0a8.1,8.1 0 1,0 -16.2,0M663.1,264.1a8.1,8.1 0 1,0 16.2,0a8.1,8.1 0 1,0 -16.2,0M667.8,259.5a8.1,8.1 0 1,0 16.2,0a8.1,8.1 0 1,0 -16.2,0M670.1,257.2a8.1,8.1 0 1,0 16.2,0a8.1,8.1 0 1,0 -16.2,0M674.7,252.6a8.1,8.1 0 1,0 16.2,0a8.1,8.1 0 1,0 -16.2,0M679.3,248a8.1,8.1 0 1,0 16.2,0a8.1,8.1 0 1,0 -16.2,0M681.6,241a8.1,8.1 0 1,0 16.2,0a8.1,8.1 0 1,0 -16.2,0M686.2,236.4a8.1,8.1 0 1,0 16.2,0a8.1,8.1 0 1,0 -16.2,0M690.8,231.8a8.1,8.1 0 1,0 16.2,0a8.1,8.1 0 1,0 -16.2,0M693.1,227.2a8.1,8.1 0 1,0 16.2,0a8.1,8.1 0 1,0 -16.2,0M697.7,222.6a8.1,8.1 0 1,0 16.2,0a8.1,8.1 0 1,0 -16.2,0M702.3,215.7a8.1,8.1 0 1,0 16.2,0a8.1,8.1 0 1,0 -16.2,0M704.6,211.1a8.1,8.1 0 1,0 16.2,0a8.1,8.1 0 1,0 -16.2,0M709.2,206.5a8.1,8.1 0 1,0 16.2,0a8.1,8.1 0 1,0 -16.2,0M711.5,204.2a8.1,8.1 0 1,0 16.2,0a8.1,8.1 0 1,0 -16.2,0" fill="none" stroke="#f00" stroke-width="2.15"/><path d="M172.3,681.2a8.1,8.1 0 1,0 16.2,0a8.1,8.1 0 1,0 -16.2,0M174.6,681.2a8.1,8.1 0 1,0 16.2,0a8.1,8.1 0 1,0 -16.2,0M176.9,678.9a8.1,8.1 0 1,0 16.2,0a8.1,8.1 0 1,0 -16.2,0M176.9,676.6a8.1,8.1 0 1,0 16.2,0a8.1,8.1 0 1,0 -16.2,0M179.2,676.6a8.1,8.1 0 1,0 16.2,0a8.1,8.1 0 1,0 -16.2,0M181.5,674.3a8.1,8.1 0 1,0 16.2,0a8.1,8.1 0 1,0 -16.2,0M186.1,672a8.1,8.1 0 1,0 16.2,0a8.1,8.1 0 1,0 -16.2,0M188.4,669.7a8.1,8.1 0 1,0 16.2,0a8.1,8.1 0 1,0 -16.2,0M193,667.4a8.1,8.1 0 1,0 16.2,0a8.1,8.1 0 1,0 -16.2,0M197.6,665.1a8.1,8.1 0 1,0 16.2,0a8.1,8.1 0 1,0 -16.2,0M202.2,662.8a8.1,8.1 0 1,0 16.2,0a8.1,8.1 0 1,0 -16.2,0M206.9,660.5a8.1,8.1 0 1,0 16.2,0a8.1,8.1 0 1,0 -16.2,0M211.5,655.9a8.1,8.1 0 1,0 16.2,0a8.1,8.1 0 1,0 -16.2,0M213.8,653.5a8.1,8.1 0 1,0 16.2,0a8.1,8.1 0 1,0 -16.2,0M218.4,651.2a8.1,8.1 0 1,0 16.2,0a8.1,8.1 0 1,0 -16.2,0M223,648.9a8.1,8.1 0 1,0 16.2,0a8.1,8.1 0 1,0 -16.2,0M227.6,644.3a8.1,8.1 0 1,0 16.2,0a8.1,8.1 0 1,0 -16.2,0M232.2,642a8.1,8.1 0 1,0 16.2,0a8.1,8.1 0 1,0 -16.2,0M236.8,639.7a8.1,8.1 0 1,0 16.2,0a8.1,8.1 0 1,0 -16.2,0M241.4,637.4a8.1,8.1 0 1,0 16.2,0a8.1,8.1 0 1,0 -16.2,0M243.7,635.1a8.1,8.1 0 1,0 16.2,0a8.1,8.1 0 1,0 -16.2,0M248.3,630.5a8.1,8.1 0 1,0 16.2,0a8.1,8.1 0 1,0 -16.2,0M252.9,628.2a8.1,8.1 0 1,0 16.2,0a8.1,8.1 0 1,0 -16.2,0M257.6,625.9a8.1,8.1 0 1,0 16.2,0a8.1,8.1 0 1,0 -16.2,0M262.2,623.6a8.1,8.1 0 1,0 16.2,0a8.1,8.1 0 1,0 -16.2,0M266.8,619a8.1,8.1 0 1,0 16.2,0a8.1,8.1 0 1,0 -16.2,0M271.4,616.7a8.1,8.1 0 1,0 16.2,0a8.1,8.1 0 1,0 -16.2,0M276,612.1a8.1,8.1 0 1,0 16.2,0a8.1,8.1 0 1,0 -16.2,0M278.3,609.8a8.1,8.1 0 1,0 16.2,0a8.1,8.1 0 1,0 -16.2,0M282.9,605.2a8.1,8.1 0 1,0 16.2,0a8.1,8.1 0 1,0 -16.2,0M287.5,602.8a8.1,8.1 0 1,0 16.2,0a8.1,8.1 0 1,0 -16.2,0M292.1,600.5a8.1,8.1 0 1,0 16.2,0a8.1,8.1 0 1,0 -16.2,0M296.7,595.9a8.1,8.1 0 1,0 16.2,0a8.1,8.1 0 1,0 -16.2,0M301.3,593.6a8.1,8.1 0 1,0 16.2,0a8.1,8.1 0 1,0 -16.2,0M305.9,591.3a8.1,8.1 0 1,0 16.2,0a8.1,8.1 0 1,0 -16.2,0M308.3,586.7a8.1,8.1 0 1,0 16.2,0a8.1,8.1 0 1,0 -16.2,0M312.9,584.4a8.1,8.1 0 1,0 16.2,0a8.1,8.1 0 1,0 -16.2,0M317.5,579.8a8.1,8.1 0 1,0 16.2,0a8.1,8.1 0 1,0 -16.2,0M322.1,577.5a8.1,8.1 0 1,0 16.2,0a8.1,8.1 0 1,0 -16.2,0M326.7,572.9a8.1,8.1 0 1,0 16.2,0a8.1,8.1 0 1,0 -16.2,0M331.3,570.6a8.1,8.1 0 1,0 16.2,0a8.1,8.1 0 1,0 -16.2,0M335.9,566a8.1,8.1 0 1,0 16.2,0a8.1,8.1 0 1,0 -16.2,0M340.5,563.7a8.1,8.1 0 1,0 16.2,0a8.1,8.1 0 1,0 -16.2,0M342.8,559.1a8.1,8.1 0 1,0 16.2,0a8.1,8.1 0 1,0 -16.2,0M347.4,556.8a8.1,8.1 0 1,0 16.2,0a8.1,8.1 0 1,0 -16.2,0M352,554.5a8.1,8.1 0 1,0 16.2,0a8.1,8.1 0 1,0 -16.2,0M356.6,549.8a8.1,8.1 0 1,0 16.2,0a8.1,8.1 0 1,0 -16.2,0M361.3,547.5a8.1,8.1 0 1,0 16.2,0a8.1,8.1 0 1,0 -16.2,0M365.9,545.2a8.1,8.1 0 1,0 16.2,0a8.1,8.1 0 1,0 -16.2,0M370.5,540.6a8.1,8.1 0 1,0 16.2,0a8.1,8.1 0 1,0 -16.2,0M372.8,538.3a8.1,8.1 0 1,0 16.2,0a8.1,8.1 0 1,0 -16.2,0M377.4,536a8.1,8.1 0 1,0 16.2,0a8.1,8.1 0 1,0 -16.2,0M382,533.7a8.1,8.1 0 1,0 16.2,0a8.1,8.1 0 1,0 -16.2,0M386.6,529.1a8.1,8.1 0 1,0 16.2,0a8.1,8.1 0 1,0 -16.2,0M391.2,526.8a8.1,8.1 0 1,0 16.2,0a8.1,8.1 0 1,0 -16.2,0M395.8,524.5a8.1,8.1 0 1,0 16.2,0a8.1,8.1 0 1,0 -16.2,0M400.4,522.2a8.1,8.1 0 1,0 16.2,0a8.1,8.1 0 1,0 -16.2,0M402.7,519.9a8.1,8.1 0 1,0 16.2,0a8.1,8.1 0 1,0 -16.2,0M407.3,517.6a8.1,8.1 0 1,0 16.2,0a8.1,8.1 0 1,0 -16.2,0M412,513a8.1,8.1 0 1,0 16.2,0a8.1,8.1 0 1,0 -16.2,0M416.6,510.7a8.1,8.1 0 1,0 16.2,0a8.1,8.1 0 1,0 -16.2,0M421.2,508.4a8.1,8.1 0 1,0 16.2,0a8.1,8.1 0 1,0 -16.2,0M425.8,503.8a8.1,8.1 0 1,0 16.2,0a8.1,8.1 0 1,0 -16.2,0M430.4,499.1a8.1,8.1 0 1,0 16.2,0a8.1,8.1 0 1,0 -16.2,0M435,494.5a8.1,8.1 0 1,0 16.2,0a8.1,8.1 0 1,0 -16.2,0M437.3,489.9a8.1,8.1 0 1,0 16.2,0a8.1,8.1 0 1,0 -16.2,0M441.9,485.3a8.1,8.1 0 1,0 16.2,0a8.1,8.1 0 1,0 -16.2,0M446.5,478.4a8.1,8.1 0 1,0 16.2,0a8.1,8.1 0 1,0 -16.2,0M451.1,473.8a8.1,8.1 0 1,0 16.2,0a8.1,8.1 0 1,0 -16.2,0M455.7,469.2a8.1,8.1 0 1,0 16.2,0a8.1,8.1 0 1,0 -16.2,0M460.4,464.6a8.1,8.1 0 1,0 16.2,0a8.1,8.1 0 1,0 -16.2,0M462.7,460a8.1,8.1 0 1,0 16.2,0a8.1,8.1 0 1,0 -16.2,0M467.3,455.4a8.1,8.1 0 1,0 16.2,0a8.1,8.1 0 1,0 -16.2,0M471.9,450.8a8.1,8.1 0 1,0 16.2,0a8.1,8.1 0 1,0 -16.2,0M476.5,446.1a8.1,8.1 0 1,0 16.2,0a8.1,8.1 0 1,0 -16.2,0M481.1,443.8a8.1,8.1 0 1,0 16.2,0a8.1,8.1 0 1,0 -16.2,0M485.7,439.2a8.1,8.1 0 1,0 16.2,0a8.1,8.1 0 1,0 -16.2,0M488,436.9a8.1,8.1 0 1,0 16.2,0a8.1,8.1 0 1,0 -16.2,0M492.6,434.6a8.1,8.1 0 1,0 16.2,0a8.1,8.1 0 1,0 -16.2,0M497.2,430a8.1,8.1 0 1,0 16.2,0a8.1,8.1 0 1,0 -16.2,0M501.8,427.7a8.1,8.1 0 1,0 16.2,0a8.1,8.1 0 1,0 -16.2,0M506.4,425.4a8.1,8.1 0 1,0 16.2,0a8.1,8.1 0 1,0 -16.2,0M508.7,423.1a8.1,8.1 0 1,0 16.2,0a8.1,8.1 0 1,0 -16.2,0M513.4,418.5a8.1,8.1 0 1,0 16.2,0a8.1,8.1 0 1,0 -16.2,0M518,416.2a8.1,8.1 0 1,0 16.2,0a8.1,8.1 0 1,0 -16.2,0M522.6,411.6a8.1,8.1 0 1,0 16.2,0a8.1,8.1 0 1,0 -16.2,0M527.2,409.3a8.1,8.1 0 1,0 16.2,0a8.1,8.1 0 1,0 -16.2,0M529.5,404.7a8.1,8.1 0 1,0 16.2,0a8.1,8.1 0 1,0 -16.2,0M534.1,400.1a8.1,8.1 0 1,0 16.2,0a8.1,8.1 0 1,0 -16.2,0M538.7,395.4a8.1,8.1 0 1,0 16.2,0a8.1,8.1 0 1,0 -16.2,0M543.3,390.8a8.1,8.1 0 1,0 16.2,0a8.1,8.1 0 1,0 -16.2,0M545.6,386.2a8.1,8.1 0 1,0 16.2,0a8.1,8.1 0 1,0 -16.2,0M550.2,381.6a8.1,8.1 0 1,0 16.2,0a8.1,8.1 0 1,0 -16.2,0M554.8,377a8.1,8.1 0 1,0 16.2,0a8.1,8.1 0 1,0 -16.2,0M559.4,372.4a8.1,8.1 0 1,0 16.2,0a8.1,8.1 0 1,0 -16.2,0M561.7,367.8a8.1,8.1 0 1,0 16.2,0a8.1,8.1 0 1,0 -16.2,0M566.4,363.2a8.1,8.1 0 1,0 16.2,0a8.1,8.1 0 1,0 -16.2,0M571,358.6a8.1,8.1 0 1,0 16.2,0a8.1,8.1 0 1,0 -16.2,0M575.6,354a8.1,8.1 0 1,0 16.2,0a8.1,8.1 0 1,0 -16.2,0M577.9,349.4a8.1,8.1 0 1,0 16.2,0a8.1,8.1 0 1,0 -16.2,0M582.5,344.7a8.1,8.1 0 1,0 16.2,0a8.1,8.1 0 1,0 -16.2,0M587.1,340.1a8.1,8.1 0 1,0 16.2,0a8.1,8.1 0 1,0 -16.2,0M589.4,335.5a8.1,8.1 0 1,0 16.2,0a8.1,8.1 0 1,0 -16.2,0M594,333.2a8.1,8.1 0 1,0 16.2,0a8.1,8.1 0 1,0 -16.2,0M598.6,328.6a8.1,8.1 0 1,0 16.2,0a8.1,8.1 0 1,0 -16.2,0M600.9,324a8.1,8.1 0 1,0 16.2,0a8.1,8.1 0 1,0 -16.2,0M605.5,321.7a8.1,8.1 0 1,0 16.2,0a8.1,8.1 0 1,0 -16.2,0M610.1,317.1a8.1,8.1 0 1,0 16.2,0a8.1,8.1 0 1,0 -16.2,0M612.4,312.5a8.1,8.1 0 1,0 16.2,0a8.1,8.1 0 1,0 -16.2,0M617.1,307.9a8.1,8.1 0 1,0 16.2,0a8.1,8.1 0 1,0 -16.2,0M621.7,305.6a8.1,8.1 0 1,0 16.2,0a8.1,8.1 0 1,0 -16.2,0M624,301a8.1,8.1 0 1,0 16.2,0a8.1,8.1 0 1,0 -16.2,0M628.6,298.7a8.1,8.1 0 1,0 16.2,0a8.1,8.1 0 1,0 -16.2,0M630.9,294a8.1,8.1 0 1,0 16.2,0a8.1,8.1 0 1,0 -16.2,0M635.5,291.7a8.1,8.1 0 1,0 16.2,0a8.1,8.1 0 1,0 -16.2,0M640.1,289.4a8.1,8.1 0 1,0 16.2,0a8.1,8.1 0 1,0 -16.2,0M642.4,284.8a8.1,8.1 0 1,0 16.2,0a8.1,8.1 0 1,0 -16.2,0M647,282.5a8.1,8.1 0 1,0 16.2,0a8.1,8.1 0 1,0 -16.2,0M649.3,277.9a8.1,8.1 0 1,0 16.2,0a8.1,8.1 0 1,0 -16.2,0M653.9,275.6a8.1,8.1 0 1,0 16.2,0a8.1,8.1 0 1,0 -16.2,0M656.2,271a8.1,8.1 0 1,0 16.2,0a8.1,8.1 0 1,0 -16.2,0M660.8,268.7a8.1,8.1 0 1,0 16.2,0a8.1,8.1 0 1,0 -16.2,0M665.5,264.1a8.1,8.1 0 1,0 16.2,0a8.1,8.1 0 1,0 -16.2,0M667.8,261.8a8.1,8.1 0 1,0 16.2,0a8.1,8.1 0 1,0 -16.2,0M672.4,257.2a8.1,8.1 0 1,0 16.2,0a8.1,8.1 0 1,0 -16.2,0M674.7,252.6a8.1,8.1 0 1,0 16.2,0a8.1,8.1 0 1,0 -16.2,0M679.3,248a8.1,8.1 0 1,0 16.2,0a8.1,8.1 0 1,0 -16.2,0M681.6,243.3a8.1,8.1 0 1,0 16.2,0a8.1,8.1 0 1,0 -16.2,0M686.2,236.4a8.1,8.1 0 1,0 16.2,0a8.1,8.1 0 1,0 -16.2,0M690.8,231.8a8.1,8.1 0 1,0 16.2,0a8.1,8.1 0 1,0 -16.2,0M693.1,224.9a8.1,8.1 0 1,0 16.2,0a8.1,8.1 0 1,0 -16.2,0M695.4,222.6a8.1,8.1 0 1,0 16.2,0a8.1,8.1 0 1,0 -16.2,0" fill="none" stroke="#000" stroke-width="2.15"/></g><path d="M82.20,17.5H990.25" stroke="#000" stroke-width="2.7" fill="none"/><path d="M82.20,731.9H990.25" stroke="#000" stroke-width="2.1" fill="none"/><path d="M83.6,16.15V732.95" stroke="#000" stroke-width="2.8" fill="none"/><path d="M989.2,16.15V732.95" stroke="#000" stroke-width="2.1" fill="none"/><path d="M212.6,731.9v-10.6M341.6,731.9v-10.6M471.2,731.9v-10.6M600.7,731.9v-10.6M730.1,731.9v-10.6M859.4,731.9v-10.6" stroke="#000" stroke-width="1.8" fill="none"/><path d="M212.6,17.5v8.7M341.6,17.5v8.7M471.2,17.5v8.7M600.7,17.5v8.7M730.1,17.5v8.7M859.4,17.5v8.7" stroke="#000" stroke-width="1.6" fill="none"/><path d="M83.6,642.0h8.3M83.6,552.2h8.3M83.6,462.3h8.3M83.6,374.7h8.3M83.6,285.0h8.3M83.6,195.0h8.3M83.6,105.1h8.3" stroke="#000" stroke-width="1.5" fill="none"/><path d="M989.2,642.0h-11.2M989.2,552.2h-11.2M989.2,462.3h-11.2M989.2,374.7h-11.2M989.2,285.0h-11.2M989.2,195.0h-11.2M989.2,105.1h-11.2" stroke="#000" stroke-width="1.6" fill="none"/><rect x="770.2" y="32.1" width="206.1" height="281.9" fill="#fff" stroke="#000" stroke-width="2.3"/><circle cx="828.1" cy="55.0" r="8.25" fill="none" stroke="#000" stroke-width="1.85"/><circle cx="828.1" cy="94.5" r="8.25" fill="none" stroke="#f00" stroke-width="1.85"/><path d="M819.6,132.6h17M828.1,124.1v17M823.4,127.9l9.4,9.4M823.4,137.3l9.4,-9.4" fill="none" stroke="#00f" stroke-width="1.8"/><circle cx="828.1" cy="172.1" r="8.25" fill="none" stroke="#0f0" stroke-width="1.85"/><path d="M819.6,211.8h17M828.1,203.3v17M823.4,207.1l9.4,9.4M823.4,216.5l9.4,-9.4" fill="none" stroke="#0ff" stroke-width="1.8"/><circle cx="828.1" cy="249.4" r="8.25" fill="none" stroke="#f0f" stroke-width="1.85"/><path d="M819.6,289.1h17M828.1,280.6v17M823.4,284.4l9.4,9.4M823.4,293.8l9.4,-9.4" fill="none" stroke="#ff0" stroke-width="1.8"/><text transform="translate(881.2,65.7) scale(0.95,1)" font-size="27.8" text-anchor="start" stroke="#000" stroke-width="0.3">Robot1</text><text transform="translate(881.2,102.9) scale(0.95,1)" font-size="27.8" text-anchor="start" stroke="#000" stroke-width="0.3">Robot2</text><text transform="translate(881.2,142.6) scale(0.95,1)" font-size="27.8" text-anchor="start" stroke="#000" stroke-width="0.3">Robot3</text><text transform="translate(881.2,182.65) scale(0.95,1)" font-size="27.8" text-anchor="start" stroke="#000" stroke-width="0.3">Robot4</text><text transform="translate(881.2,222.5) scale(0.95,1)" font-size="27.8" text-anchor="start" stroke="#000" stroke-width="0.3">Robot5</text><text transform="translate(881.2,262.1) scale(0.95,1)" font-size="27.8" text-anchor="start" stroke="#000" stroke-width="0.3">Robot6</text><text transform="translate(881.2,299.9) scale(0.95,1)" font-size="27.8" text-anchor="start" stroke="#000" stroke-width="0.3">Robot7</text><text transform="translate(85.1,763.0) scale(0.95,1)" font-size="28" text-anchor="middle" stroke="#000" stroke-width="0.3">0</text><text transform="translate(214.1,763.0) scale(0.95,1)" font-size="28" text-anchor="middle" stroke="#000" stroke-width="0.3">2</text><text transform="translate(343.1,763.0) scale(0.95,1)" font-size="28" text-anchor="middle" stroke="#000" stroke-width="0.3">4</text><text transform="translate(472.7,763.0) scale(0.95,1)" font-size="28" text-anchor="middle" stroke="#000" stroke-width="0.3">6</text><text transform="translate(602.2,763.0) scale(0.95,1)" font-size="28" text-anchor="middle" stroke="#000" stroke-width="0.3">8</text><text transform="translate(731.6,763.0) scale(0.95,1)" font-size="28" text-anchor="middle" stroke="#000" stroke-width="0.3">10</text><text transform="translate(860.9,763.0) scale(0.95,1)" font-size="28" text-anchor="middle" stroke="#000" stroke-width="0.3">12</text><text transform="translate(990.7,763.0) scale(0.95,1)" font-size="28" text-anchor="middle" stroke="#000" stroke-width="0.3">14</text><text transform="translate(75.8,740.8) scale(0.95,1)" font-size="28" text-anchor="end" stroke="#000" stroke-width="0.3">0</text><text transform="translate(75.8,650.9) scale(0.95,1)" font-size="28" text-anchor="end" stroke="#000" stroke-width="0.3">2</text><text transform="translate(75.8,561.1) scale(0.95,1)" font-size="28" text-anchor="end" stroke="#000" stroke-width="0.3">4</text><text transform="translate(75.8,471.2) scale(0.95,1)" font-size="28" text-anchor="end" stroke="#000" stroke-width="0.3">6</text><text transform="translate(75.8,383.6) scale(0.95,1)" font-size="28" text-anchor="end" stroke="#000" stroke-width="0.3">8</text><text transform="translate(75.8,293.9) scale(0.95,1)" font-size="28" text-anchor="end" stroke="#000" stroke-width="0.3">10</text><text transform="translate(75.8,203.8) scale(0.95,1)" font-size="28" text-anchor="end" stroke="#000" stroke-width="0.3">12</text><text transform="translate(75.8,113.9) scale(0.95,1)" font-size="28" text-anchor="end" stroke="#000" stroke-width="0.3">14</text><text transform="translate(75.8,26.4) scale(0.95,1)" font-size="28" text-anchor="end" stroke="#000" stroke-width="0.3">16</text><text transform="translate(534.6,798.7) scale(0.963,1)" font-size="28" text-anchor="middle" stroke="#000" stroke-width="0.3">Position-<tspan font-style="italic">x</tspan> (m)</text><text transform="translate(24,376.9) rotate(-90) scale(0.963,1)" font-size="28" text-anchor="middle" stroke="#000" stroke-width="0.3">Position-<tspan font-style="italic">y</tspan> (m)</text></svg>
</body></html>
